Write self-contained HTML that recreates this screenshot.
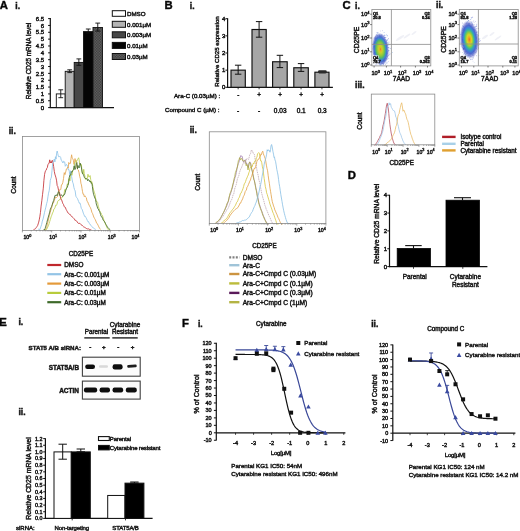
<!DOCTYPE html>
<html><head><meta charset="utf-8"><style>
html,body{margin:0;padding:0;background:#fff;overflow:hidden;}
svg{display:block;font-family:"Liberation Sans", sans-serif;will-change:transform;}
text{stroke:#1a1a1a;stroke-width:0.45px;}
</style></head><body>
<svg width="520" height="531" viewBox="0 0 520 531">
<defs>
<pattern id="chk" width="1.6" height="1.6" patternUnits="userSpaceOnUse"><rect width="1.6" height="1.6" fill="#6a6a6a"/><rect width="0.8" height="0.8" fill="#353535"/><rect x="0.8" y="0.8" width="0.8" height="0.8" fill="#353535"/></pattern>
<radialGradient id="g1" cx="0.5" cy="0.5" r="0.5"><stop offset="0" stop-color="#e87a30"/><stop offset="0.1" stop-color="#e8b028"/><stop offset="0.22" stop-color="#c8d02c"/><stop offset="0.4" stop-color="#8cc83c"/><stop offset="0.54" stop-color="#50b470"/><stop offset="0.64" stop-color="#3a90c8"/><stop offset="0.75" stop-color="#3a62d0" stop-opacity="0.9"/><stop offset="0.87" stop-color="#4a5ac8" stop-opacity="0.55"/><stop offset="1" stop-color="#7080d0" stop-opacity="0"/></radialGradient>
<radialGradient id="g2" cx="0.5" cy="0.5" r="0.5"><stop offset="0" stop-color="#f06828"/><stop offset="0.12" stop-color="#f0a820"/><stop offset="0.24" stop-color="#d8d428"/><stop offset="0.36" stop-color="#90cc3c"/><stop offset="0.48" stop-color="#38b898"/><stop offset="0.6" stop-color="#3a88d4"/><stop offset="0.72" stop-color="#3a58cc" stop-opacity="0.9"/><stop offset="0.86" stop-color="#4a50c0" stop-opacity="0.5"/><stop offset="1" stop-color="#7078d0" stop-opacity="0"/></radialGradient>
<filter id="bl" x="-20%" y="-50%" width="140%" height="200%"><feGaussianBlur stdDeviation="0.55"/></filter>
<radialGradient id="band" cx="0.5" cy="0.5" r="0.5"><stop offset="0" stop-color="#000"/><stop offset="0.55" stop-color="#111"/><stop offset="0.8" stop-color="#444" stop-opacity="0.7"/><stop offset="1" stop-color="#888" stop-opacity="0"/></radialGradient>
</defs>
<rect width="520" height="531" fill="#fff"/>
<text x="-0.30" y="8.50" font-size="11.3" font-weight="bold" fill="#000">A</text>
<text x="15.30" y="8.60" font-size="8.6" font-weight="bold" fill="#111">i.</text>
<line x1="50.30" y1="18.10" x2="50.30" y2="108.10" stroke="#111" stroke-width="1.2"/>
<line x1="49.80" y1="107.60" x2="114.00" y2="107.60" stroke="#111" stroke-width="1.2"/>
<line x1="48.10" y1="107.60" x2="50.30" y2="107.60" stroke="#111" stroke-width="1.0"/>
<text x="44.20" y="109.76" font-size="6.0" text-anchor="end" font-weight="normal" fill="#111">0</text>
<line x1="48.10" y1="100.75" x2="50.30" y2="100.75" stroke="#111" stroke-width="1.0"/>
<text x="44.20" y="102.91" font-size="6.0" text-anchor="end" font-weight="normal" fill="#111">0.5</text>
<line x1="48.10" y1="93.91" x2="50.30" y2="93.91" stroke="#111" stroke-width="1.0"/>
<text x="44.20" y="96.07" font-size="6.0" text-anchor="end" font-weight="normal" fill="#111">1</text>
<line x1="48.10" y1="87.06" x2="50.30" y2="87.06" stroke="#111" stroke-width="1.0"/>
<text x="44.20" y="89.22" font-size="6.0" text-anchor="end" font-weight="normal" fill="#111">1.5</text>
<line x1="48.10" y1="80.22" x2="50.30" y2="80.22" stroke="#111" stroke-width="1.0"/>
<text x="44.20" y="82.38" font-size="6.0" text-anchor="end" font-weight="normal" fill="#111">2</text>
<line x1="48.10" y1="73.37" x2="50.30" y2="73.37" stroke="#111" stroke-width="1.0"/>
<text x="44.20" y="75.53" font-size="6.0" text-anchor="end" font-weight="normal" fill="#111">2.5</text>
<line x1="48.10" y1="66.52" x2="50.30" y2="66.52" stroke="#111" stroke-width="1.0"/>
<text x="44.20" y="68.68" font-size="6.0" text-anchor="end" font-weight="normal" fill="#111">3</text>
<line x1="48.10" y1="59.68" x2="50.30" y2="59.68" stroke="#111" stroke-width="1.0"/>
<text x="44.20" y="61.84" font-size="6.0" text-anchor="end" font-weight="normal" fill="#111">3.5</text>
<line x1="48.10" y1="52.83" x2="50.30" y2="52.83" stroke="#111" stroke-width="1.0"/>
<text x="44.20" y="54.99" font-size="6.0" text-anchor="end" font-weight="normal" fill="#111">4</text>
<line x1="48.10" y1="45.98" x2="50.30" y2="45.98" stroke="#111" stroke-width="1.0"/>
<text x="44.20" y="48.14" font-size="6.0" text-anchor="end" font-weight="normal" fill="#111">4.5</text>
<line x1="48.10" y1="39.14" x2="50.30" y2="39.14" stroke="#111" stroke-width="1.0"/>
<text x="44.20" y="41.30" font-size="6.0" text-anchor="end" font-weight="normal" fill="#111">5</text>
<line x1="48.10" y1="32.29" x2="50.30" y2="32.29" stroke="#111" stroke-width="1.0"/>
<text x="44.20" y="34.45" font-size="6.0" text-anchor="end" font-weight="normal" fill="#111">5.5</text>
<line x1="48.10" y1="25.45" x2="50.30" y2="25.45" stroke="#111" stroke-width="1.0"/>
<text x="44.20" y="27.61" font-size="6.0" text-anchor="end" font-weight="normal" fill="#111">6</text>
<line x1="48.10" y1="18.60" x2="50.30" y2="18.60" stroke="#111" stroke-width="1.0"/>
<text x="44.20" y="20.76" font-size="6.0" text-anchor="end" font-weight="normal" fill="#111">6.5</text>
<text x="28.40" y="63.30" font-size="6.4" text-anchor="middle" font-weight="normal" fill="#111" transform="rotate(-90 28.40 61.00)">Relative CD25 mRNA level</text>
<rect x="56.30" y="93.91" width="8.90" height="13.69" fill="#ffffff" stroke="#111" stroke-width="0.9"/>
<line x1="60.75" y1="89.80" x2="60.75" y2="97.70" stroke="#111" stroke-width="0.9"/>
<line x1="58.35" y1="89.80" x2="63.15" y2="89.80" stroke="#111" stroke-width="0.9"/>
<line x1="58.35" y1="97.70" x2="63.15" y2="97.70" stroke="#111" stroke-width="0.9"/>
<rect x="65.20" y="71.32" width="9.00" height="36.28" fill="#b4b4b4" stroke="#111" stroke-width="0.9"/>
<line x1="69.70" y1="69.80" x2="69.70" y2="72.60" stroke="#111" stroke-width="0.9"/>
<line x1="67.30" y1="69.80" x2="72.10" y2="69.80" stroke="#111" stroke-width="0.9"/>
<line x1="67.30" y1="72.60" x2="72.10" y2="72.60" stroke="#111" stroke-width="0.9"/>
<rect x="74.20" y="62.42" width="9.30" height="45.18" fill="#474747" stroke="#111" stroke-width="0.9"/>
<line x1="78.85" y1="58.90" x2="78.85" y2="65.30" stroke="#111" stroke-width="0.9"/>
<line x1="76.45" y1="58.90" x2="81.25" y2="58.90" stroke="#111" stroke-width="0.9"/>
<line x1="76.45" y1="65.30" x2="81.25" y2="65.30" stroke="#111" stroke-width="0.9"/>
<rect x="83.50" y="31.61" width="9.50" height="75.99" fill="#050505" stroke="#111" stroke-width="0.9"/>
<line x1="88.25" y1="29.00" x2="88.25" y2="33.00" stroke="#111" stroke-width="0.9"/>
<line x1="85.85" y1="29.00" x2="90.65" y2="29.00" stroke="#111" stroke-width="0.9"/>
<line x1="85.85" y1="33.00" x2="90.65" y2="33.00" stroke="#111" stroke-width="0.9"/>
<rect x="93.00" y="27.50" width="9.50" height="80.10" fill="url(#chk)" stroke="#111" stroke-width="0.9"/>
<line x1="97.75" y1="23.10" x2="97.75" y2="31.10" stroke="#111" stroke-width="0.9"/>
<line x1="95.35" y1="23.10" x2="100.15" y2="23.10" stroke="#111" stroke-width="0.9"/>
<line x1="95.35" y1="31.10" x2="100.15" y2="31.10" stroke="#111" stroke-width="0.9"/>
<rect x="112.30" y="10.70" width="13.20" height="5.60" fill="#ffffff" stroke="#111" stroke-width="1.0"/>
<text x="127.00" y="15.83" font-size="6.2" text-anchor="start" font-weight="normal" fill="#111">DMSO</text>
<rect x="112.30" y="21.30" width="13.20" height="6.00" fill="#b4b4b4" stroke="#111" stroke-width="1.0"/>
<text x="127.00" y="26.83" font-size="6.2" text-anchor="start" font-weight="normal" fill="#111">0.001&#181;M</text>
<rect x="112.30" y="31.80" width="13.20" height="6.00" fill="#474747" stroke="#111" stroke-width="1.0"/>
<text x="127.00" y="37.23" font-size="6.2" text-anchor="start" font-weight="normal" fill="#111">0.003&#181;M</text>
<rect x="112.30" y="42.40" width="13.20" height="6.00" fill="#050505" stroke="#111" stroke-width="1.0"/>
<text x="127.00" y="47.83" font-size="6.2" text-anchor="start" font-weight="normal" fill="#111">0.01&#181;M</text>
<rect x="112.30" y="53.50" width="13.20" height="6.00" fill="url(#chk)" stroke="#111" stroke-width="1.0"/>
<text x="127.00" y="59.03" font-size="6.2" text-anchor="start" font-weight="normal" fill="#111">0.03&#181;M</text>
<text x="8.70" y="133.70" font-size="8.6" font-weight="bold" fill="#111">ii.</text>
<text x="13.30" y="187.27" font-size="6.3" text-anchor="middle" font-weight="normal" fill="#111" transform="rotate(-90 13.30 185.00)">Count</text>
<path d="M33.54,229.47L33.95,229.29L34.55,229.26L35.22,228.86L35.85,228.25L36.42,227.34L37.00,226.50L37.58,225.61L38.16,223.91L38.71,222.15L39.24,219.82L39.80,216.82L40.46,212.43L41.10,206.15L41.82,200.77L42.57,194.31L43.29,188.18L43.92,180.36L44.58,174.40L45.15,171.89L45.68,170.54L46.23,170.11L46.81,168.19L47.39,167.53L47.96,164.31L48.54,163.91L49.13,163.09L49.74,159.83L50.32,162.82L50.85,161.69L51.43,162.93L51.93,160.56L52.46,160.51L53.05,162.98L53.65,166.54L54.31,171.40L54.85,174.10L55.44,175.99L56.03,177.85L56.62,180.82L57.17,185.55L57.70,186.22L58.27,189.01L58.93,191.86L59.51,192.31L60.12,195.46L60.78,199.28L61.53,199.52L62.39,202.19L62.92,203.67L63.49,204.44L64.10,206.23L64.73,207.22L65.39,207.38L66.06,209.34L66.75,210.64L67.45,211.87L68.16,213.17L68.80,213.64L69.47,214.21L70.15,214.32L70.84,215.68L71.55,216.23L72.26,216.99L72.97,217.47L73.68,218.22L74.38,219.11L75.08,220.47L75.78,220.35L76.48,220.83L77.19,221.87L77.91,222.97L78.61,223.49L79.32,223.33L80.01,223.38L80.69,224.39L81.36,224.82L82.00,225.15L82.71,226.06L83.41,226.72L84.10,227.02L84.77,227.38L85.43,227.77L86.06,228.35L86.67,228.57L87.24,228.78L87.77,228.99L88.67,228.88L89.49,229.42L90.21,229.62L90.80,229.63L91.24,229.47" stroke="#c43036" stroke-width="0.85" fill="none" stroke-linejoin="round"/>
<path d="M38.16,229.47L38.52,229.19L39.02,229.68L39.67,229.89L40.46,227.88L41.01,226.30L41.65,224.42L42.34,221.11L43.06,219.00L43.78,216.00L44.46,212.71L45.08,210.16L45.86,207.12L46.60,203.65L47.29,201.34L47.94,196.85L48.54,193.20L49.20,190.68L49.77,186.05L50.30,180.33L50.85,178.62L51.43,176.95L52.00,170.65L52.58,163.94L53.16,162.17L53.73,160.60L54.31,159.04L54.89,161.93L55.46,156.71L56.04,159.14L56.62,153.10L57.20,151.00L57.77,153.61L58.35,156.28L58.93,157.09L59.50,156.57L60.08,156.42L60.66,157.43L61.23,160.23L61.81,160.63L62.39,162.20L62.96,163.02L63.54,161.27L64.12,161.82L64.70,161.87L65.27,166.27L65.85,165.37L66.43,164.40L67.00,164.95L67.58,166.54L68.16,169.79L68.73,169.34L69.31,171.42L69.89,176.00L70.47,170.78L71.04,172.30L71.62,176.53L72.17,179.84L72.70,182.33L73.27,183.81L73.93,187.49L74.53,189.60L75.17,190.87L75.87,196.21L76.60,197.45L77.39,198.38L77.99,199.92L78.62,201.45L79.29,203.23L79.97,202.86L80.65,205.43L81.34,208.48L82.00,209.16L82.66,210.98L83.32,213.13L83.98,214.72L84.64,216.43L85.30,216.30L85.96,217.59L86.62,218.81L87.28,220.35L87.94,221.79L88.60,221.65L89.26,223.45L89.92,223.92L90.58,225.24L91.24,225.59L91.94,226.58L92.69,227.61L93.46,227.99L94.20,228.49L94.87,229.06L95.43,229.32L95.85,229.47" stroke="#90c4e8" stroke-width="0.85" fill="none" stroke-linejoin="round"/>
<path d="M43.92,229.47L44.29,229.65L44.79,230.37L45.44,230.22L46.23,228.42L46.76,227.28L47.35,224.21L47.99,221.68L48.67,218.39L49.38,215.36L50.11,212.81L50.85,210.20L51.45,208.69L52.10,205.64L52.77,203.29L53.46,202.97L54.15,200.79L54.82,198.95L55.47,196.97L56.07,197.92L56.62,197.32L57.46,196.67L58.17,193.37L58.81,192.32L59.42,189.83L60.08,189.83L60.77,189.55L61.46,184.81L62.16,184.52L62.85,182.35L63.54,178.45L64.25,172.65L64.98,174.63L65.70,172.04L66.38,169.01L67.00,168.63L67.66,167.35L68.23,168.13L68.76,162.46L69.31,163.60L69.89,163.94L70.47,163.08L71.04,158.29L71.62,154.78L72.20,158.20L72.77,158.78L73.35,160.17L73.93,164.37L74.48,162.97L75.01,158.56L75.58,161.30L76.23,160.62L76.87,166.57L77.59,169.32L78.34,170.03L79.06,172.67L79.70,176.43L80.35,178.69L80.92,183.27L81.45,184.88L82.00,188.45L82.55,191.69L83.09,194.29L83.65,194.02L84.31,196.64L84.93,195.79L85.61,197.07L86.33,197.70L87.06,201.37L87.77,201.90L88.45,203.82L89.10,205.18L89.77,206.61L90.47,207.73L91.24,209.80L91.83,212.28L92.47,213.35L93.13,215.09L93.81,217.07L94.50,218.39L95.18,219.49L95.85,221.04L96.55,222.99L97.31,223.79L98.07,225.20L98.81,226.87L99.49,228.08L100.05,228.87L100.47,229.47" stroke="#e4a450" stroke-width="0.85" fill="none" stroke-linejoin="round"/>
<path d="M45.08,229.47L45.41,229.79L45.87,230.02L46.51,229.48L47.39,227.87L47.88,226.78L48.44,225.70L49.05,223.72L49.71,221.51L50.40,219.33L51.10,216.83L51.81,215.19L52.50,212.95L53.16,211.95L53.80,209.18L54.44,208.81L55.08,207.36L55.72,205.12L56.36,205.37L57.00,204.15L57.64,201.40L58.28,200.57L58.93,200.56L59.57,199.32L60.21,199.38L60.85,198.91L61.49,198.13L62.13,196.91L62.77,196.85L63.41,195.51L64.05,193.98L64.70,189.51L65.35,190.06L66.02,189.89L66.70,186.67L67.39,183.82L68.06,184.97L68.71,178.87L69.34,178.55L69.93,180.88L70.47,175.53L71.31,174.32L72.02,175.19L72.65,170.97L73.27,169.56L73.93,168.79L74.64,163.56L75.37,161.83L76.09,161.06L76.77,161.44L77.39,159.51L78.05,158.85L78.61,157.77L79.15,159.92L79.70,164.38L80.27,165.18L80.85,164.23L81.43,164.61L82.00,172.60L82.58,173.85L83.16,174.29L83.74,169.34L84.31,173.68L84.86,175.88L85.39,179.41L85.96,179.17L86.62,178.37L87.26,178.69L87.98,174.25L88.73,176.90L89.45,176.87L90.08,175.55L90.71,179.55L91.24,183.39L91.76,181.68L92.39,183.77L92.97,187.14L93.58,189.98L94.25,192.15L94.99,194.20L95.85,199.86L96.39,201.60L96.98,201.42L97.60,202.36L98.26,206.19L98.93,208.30L99.61,210.74L100.30,212.12L100.97,212.75L101.62,214.60L102.28,215.23L102.97,217.24L103.67,219.42L104.38,221.53L105.06,222.95L105.72,224.61L106.34,226.20L106.90,227.46L107.39,228.51L108.27,229.65L108.91,229.75L109.37,229.72L109.70,229.47" stroke="#bccf50" stroke-width="0.85" fill="none" stroke-linejoin="round"/>
<path d="M43.92,229.47L44.21,230.17L45.08,228.60L45.56,226.97L46.15,224.97L46.81,222.50L47.53,219.90L48.27,217.14L49.00,214.60L49.69,212.13L50.35,209.17L51.01,207.71L51.67,206.45L52.33,204.41L52.99,202.00L53.65,200.67L54.31,198.06L54.98,195.40L55.66,195.82L56.35,194.69L57.03,195.79L57.69,194.17L58.33,191.62L58.93,192.15L59.69,195.50L60.39,195.35L61.06,194.66L61.71,195.14L62.39,196.34L63.08,196.12L63.77,194.79L64.46,194.72L65.16,192.77L65.85,189.91L66.54,188.22L67.23,187.67L67.93,185.15L68.62,182.87L69.31,177.13L70.00,175.05L70.70,174.73L71.39,171.69L72.08,172.12L72.77,170.56L73.48,169.63L74.21,165.83L74.93,169.62L75.62,167.91L76.23,163.52L76.89,162.59L77.46,168.82L77.99,165.43L78.54,167.08L79.09,168.02L79.62,166.26L80.19,163.15L80.85,165.58L81.47,168.03L82.15,171.95L82.87,174.17L83.60,174.75L84.31,177.31L85.00,178.31L85.70,178.57L86.39,178.81L87.08,178.83L87.77,180.92L88.49,179.55L89.21,180.14L89.93,181.94L90.62,181.17L91.24,183.20L91.87,183.26L92.39,186.50L92.91,190.91L93.54,194.22L94.16,196.03L94.85,198.06L95.57,199.28L96.29,204.01L97.01,206.04L97.70,208.39L98.39,209.09L99.08,210.89L99.78,211.71L100.47,214.42L101.16,216.45L101.85,216.80L102.54,218.52L103.24,220.23L103.93,220.82L104.63,221.85L105.35,223.29L106.06,224.71L106.74,225.70L107.39,226.94L108.20,228.00L108.99,228.80L109.68,229.34L110.16,229.47" stroke="#446c2c" stroke-width="0.85" fill="none" stroke-linejoin="round"/>
<rect x="22.40" y="136.50" width="117.10" height="93.90" fill="none" stroke="#8a8a8a" stroke-width="0.8"/>
<line x1="22.40" y1="230.40" x2="22.40" y2="232.40" stroke="#666" stroke-width="0.6"/>
<line x1="31.21" y1="230.40" x2="31.21" y2="231.40" stroke="#666" stroke-width="0.6"/>
<line x1="36.37" y1="230.40" x2="36.37" y2="231.40" stroke="#666" stroke-width="0.6"/>
<line x1="40.03" y1="230.40" x2="40.03" y2="231.40" stroke="#666" stroke-width="0.6"/>
<line x1="42.86" y1="230.40" x2="42.86" y2="231.40" stroke="#666" stroke-width="0.6"/>
<line x1="45.18" y1="230.40" x2="45.18" y2="231.40" stroke="#666" stroke-width="0.6"/>
<line x1="47.14" y1="230.40" x2="47.14" y2="231.40" stroke="#666" stroke-width="0.6"/>
<line x1="48.84" y1="230.40" x2="48.84" y2="231.40" stroke="#666" stroke-width="0.6"/>
<line x1="50.34" y1="230.40" x2="50.34" y2="231.40" stroke="#666" stroke-width="0.6"/>
<line x1="51.67" y1="230.40" x2="51.67" y2="232.40" stroke="#666" stroke-width="0.6"/>
<line x1="60.49" y1="230.40" x2="60.49" y2="231.40" stroke="#666" stroke-width="0.6"/>
<line x1="65.64" y1="230.40" x2="65.64" y2="231.40" stroke="#666" stroke-width="0.6"/>
<line x1="69.30" y1="230.40" x2="69.30" y2="231.40" stroke="#666" stroke-width="0.6"/>
<line x1="72.14" y1="230.40" x2="72.14" y2="231.40" stroke="#666" stroke-width="0.6"/>
<line x1="74.46" y1="230.40" x2="74.46" y2="231.40" stroke="#666" stroke-width="0.6"/>
<line x1="76.42" y1="230.40" x2="76.42" y2="231.40" stroke="#666" stroke-width="0.6"/>
<line x1="78.11" y1="230.40" x2="78.11" y2="231.40" stroke="#666" stroke-width="0.6"/>
<line x1="79.61" y1="230.40" x2="79.61" y2="231.40" stroke="#666" stroke-width="0.6"/>
<line x1="80.95" y1="230.40" x2="80.95" y2="232.40" stroke="#666" stroke-width="0.6"/>
<line x1="89.76" y1="230.40" x2="89.76" y2="231.40" stroke="#666" stroke-width="0.6"/>
<line x1="94.92" y1="230.40" x2="94.92" y2="231.40" stroke="#666" stroke-width="0.6"/>
<line x1="98.58" y1="230.40" x2="98.58" y2="231.40" stroke="#666" stroke-width="0.6"/>
<line x1="101.41" y1="230.40" x2="101.41" y2="231.40" stroke="#666" stroke-width="0.6"/>
<line x1="103.73" y1="230.40" x2="103.73" y2="231.40" stroke="#666" stroke-width="0.6"/>
<line x1="105.69" y1="230.40" x2="105.69" y2="231.40" stroke="#666" stroke-width="0.6"/>
<line x1="107.39" y1="230.40" x2="107.39" y2="231.40" stroke="#666" stroke-width="0.6"/>
<line x1="108.89" y1="230.40" x2="108.89" y2="231.40" stroke="#666" stroke-width="0.6"/>
<line x1="110.22" y1="230.40" x2="110.22" y2="232.40" stroke="#666" stroke-width="0.6"/>
<line x1="119.04" y1="230.40" x2="119.04" y2="231.40" stroke="#666" stroke-width="0.6"/>
<line x1="124.19" y1="230.40" x2="124.19" y2="231.40" stroke="#666" stroke-width="0.6"/>
<line x1="127.85" y1="230.40" x2="127.85" y2="231.40" stroke="#666" stroke-width="0.6"/>
<line x1="130.69" y1="230.40" x2="130.69" y2="231.40" stroke="#666" stroke-width="0.6"/>
<line x1="133.01" y1="230.40" x2="133.01" y2="231.40" stroke="#666" stroke-width="0.6"/>
<line x1="134.97" y1="230.40" x2="134.97" y2="231.40" stroke="#666" stroke-width="0.6"/>
<line x1="136.66" y1="230.40" x2="136.66" y2="231.40" stroke="#666" stroke-width="0.6"/>
<line x1="138.16" y1="230.40" x2="138.16" y2="231.40" stroke="#666" stroke-width="0.6"/>
<line x1="139.50" y1="230.40" x2="139.50" y2="232.40" stroke="#666" stroke-width="0.6"/>
<text x="23.40" y="239.17" font-size="5.2" fill="#222" text-anchor="start">10<tspan font-size="3.74" dy="-2.18">0</tspan></text>
<text x="49.27" y="239.17" font-size="5.2" fill="#222" text-anchor="start">10<tspan font-size="3.74" dy="-2.18">1</tspan></text>
<text x="78.55" y="239.17" font-size="5.2" fill="#222" text-anchor="start">10<tspan font-size="3.74" dy="-2.18">2</tspan></text>
<text x="107.82" y="239.17" font-size="5.2" fill="#222" text-anchor="start">10<tspan font-size="3.74" dy="-2.18">3</tspan></text>
<text x="131.50" y="239.17" font-size="5.2" fill="#222" text-anchor="start">10<tspan font-size="3.74" dy="-2.18">4</tspan></text>
<text x="81.00" y="256.07" font-size="6.3" text-anchor="middle" font-weight="normal" fill="#111">CD25PE</text>
<line x1="47.30" y1="265.00" x2="61.20" y2="265.00" stroke="#c0282d" stroke-width="2.2"/>
<text x="64.20" y="267.30" font-size="6.4" text-anchor="start" font-weight="normal" fill="#111">DMSO</text>
<line x1="47.30" y1="274.20" x2="61.20" y2="274.20" stroke="#94c4e6" stroke-width="2.2"/>
<text x="64.20" y="276.50" font-size="6.4" text-anchor="start" font-weight="normal" fill="#111">Ara-C: 0.001&#181;M</text>
<line x1="47.30" y1="283.60" x2="61.20" y2="283.60" stroke="#e49a3a" stroke-width="2.2"/>
<text x="64.20" y="285.90" font-size="6.4" text-anchor="start" font-weight="normal" fill="#111">Ara-C: 0.003&#181;M</text>
<line x1="47.30" y1="292.90" x2="61.20" y2="292.90" stroke="#b8cc3c" stroke-width="2.2"/>
<text x="64.20" y="295.20" font-size="6.4" text-anchor="start" font-weight="normal" fill="#111">Ara-C: 0.01&#181;M</text>
<line x1="47.30" y1="302.20" x2="61.20" y2="302.20" stroke="#3e6a2a" stroke-width="2.2"/>
<text x="64.20" y="304.50" font-size="6.4" text-anchor="start" font-weight="normal" fill="#111">Ara-C: 0.03&#181;M</text>
<text x="164.50" y="8.70" font-size="11.3" font-weight="bold" fill="#000">B</text>
<text x="189.80" y="9.10" font-size="8.6" font-weight="bold" fill="#111">i.</text>
<line x1="227.60" y1="18.20" x2="227.60" y2="87.80" stroke="#111" stroke-width="1.2"/>
<line x1="227.10" y1="87.30" x2="332.90" y2="87.30" stroke="#111" stroke-width="1.2"/>
<line x1="225.40" y1="87.30" x2="227.60" y2="87.30" stroke="#111" stroke-width="1.0"/>
<text x="225.40" y="89.46" font-size="6.0" text-anchor="end" font-weight="normal" fill="#111">0</text>
<line x1="225.40" y1="70.15" x2="227.60" y2="70.15" stroke="#111" stroke-width="1.0"/>
<text x="225.40" y="72.31" font-size="6.0" text-anchor="end" font-weight="normal" fill="#111">1</text>
<line x1="225.40" y1="53.00" x2="227.60" y2="53.00" stroke="#111" stroke-width="1.0"/>
<text x="225.40" y="55.16" font-size="6.0" text-anchor="end" font-weight="normal" fill="#111">2</text>
<line x1="225.40" y1="35.85" x2="227.60" y2="35.85" stroke="#111" stroke-width="1.0"/>
<text x="225.40" y="38.01" font-size="6.0" text-anchor="end" font-weight="normal" fill="#111">3</text>
<line x1="225.40" y1="18.70" x2="227.60" y2="18.70" stroke="#111" stroke-width="1.0"/>
<text x="225.40" y="20.86" font-size="6.0" text-anchor="end" font-weight="normal" fill="#111">4</text>
<text x="217.20" y="53.70" font-size="6.1" text-anchor="middle" font-weight="normal" fill="#111" transform="rotate(-90 217.20 51.50)">Relative CD25 expression</text>
<rect x="231.00" y="70.15" width="14.30" height="17.15" fill="#a6a6a6" stroke="#111" stroke-width="1.15"/>
<line x1="238.15" y1="65.20" x2="238.15" y2="74.20" stroke="#111" stroke-width="1.0"/>
<line x1="234.95" y1="65.20" x2="241.35" y2="65.20" stroke="#111" stroke-width="1.0"/>
<line x1="234.95" y1="74.20" x2="241.35" y2="74.20" stroke="#111" stroke-width="1.0"/>
<line x1="238.15" y1="87.30" x2="238.15" y2="89.30" stroke="#111" stroke-width="0.8"/>
<rect x="252.00" y="29.50" width="14.20" height="57.80" fill="#a6a6a6" stroke="#111" stroke-width="1.15"/>
<line x1="259.10" y1="21.60" x2="259.10" y2="37.20" stroke="#111" stroke-width="1.0"/>
<line x1="255.90" y1="21.60" x2="262.30" y2="21.60" stroke="#111" stroke-width="1.0"/>
<line x1="255.90" y1="37.20" x2="262.30" y2="37.20" stroke="#111" stroke-width="1.0"/>
<line x1="259.10" y1="87.30" x2="259.10" y2="89.30" stroke="#111" stroke-width="0.8"/>
<rect x="272.60" y="61.75" width="14.60" height="25.55" fill="#a6a6a6" stroke="#111" stroke-width="1.15"/>
<line x1="279.90" y1="55.30" x2="279.90" y2="67.60" stroke="#111" stroke-width="1.0"/>
<line x1="276.70" y1="55.30" x2="283.10" y2="55.30" stroke="#111" stroke-width="1.0"/>
<line x1="276.70" y1="67.60" x2="283.10" y2="67.60" stroke="#111" stroke-width="1.0"/>
<line x1="279.90" y1="87.30" x2="279.90" y2="89.30" stroke="#111" stroke-width="0.8"/>
<rect x="293.80" y="67.75" width="14.50" height="19.55" fill="#a6a6a6" stroke="#111" stroke-width="1.15"/>
<line x1="301.05" y1="63.60" x2="301.05" y2="71.40" stroke="#111" stroke-width="1.0"/>
<line x1="297.85" y1="63.60" x2="304.25" y2="63.60" stroke="#111" stroke-width="1.0"/>
<line x1="297.85" y1="71.40" x2="304.25" y2="71.40" stroke="#111" stroke-width="1.0"/>
<line x1="301.05" y1="87.30" x2="301.05" y2="89.30" stroke="#111" stroke-width="0.8"/>
<rect x="314.90" y="72.21" width="14.10" height="15.09" fill="#a6a6a6" stroke="#111" stroke-width="1.15"/>
<rect x="318.0" y="70.3" width="8.8" height="3.2" rx="1.4" fill="#2a2a2a"/>
<line x1="321.95" y1="87.30" x2="321.95" y2="89.30" stroke="#111" stroke-width="0.8"/>
<text x="220.20" y="98.03" font-size="6.2" text-anchor="end" font-weight="normal" fill="#111">Ara-C (0.03&#181;M) :</text>
<text x="219.50" y="111.63" font-size="6.2" text-anchor="end" font-weight="normal" fill="#111">Compound C (&#181;M) :</text>
<text x="238.20" y="97.27" font-size="6.3" text-anchor="middle" font-weight="normal" fill="#111">-</text>
<text x="259.20" y="97.27" font-size="6.3" text-anchor="middle" font-weight="normal" fill="#111">+</text>
<text x="280.20" y="97.27" font-size="6.3" text-anchor="middle" font-weight="normal" fill="#111">+</text>
<text x="301.20" y="97.27" font-size="6.3" text-anchor="middle" font-weight="normal" fill="#111">+</text>
<text x="322.20" y="97.27" font-size="6.3" text-anchor="middle" font-weight="normal" fill="#111">+</text>
<text x="238.20" y="113.14" font-size="6.5" text-anchor="middle" font-weight="normal" fill="#111">-</text>
<text x="259.20" y="113.14" font-size="6.5" text-anchor="middle" font-weight="normal" fill="#111">-</text>
<text x="280.20" y="113.14" font-size="6.5" text-anchor="middle" font-weight="normal" fill="#111">0.03</text>
<text x="301.20" y="113.14" font-size="6.5" text-anchor="middle" font-weight="normal" fill="#111">0.1</text>
<text x="322.20" y="113.14" font-size="6.5" text-anchor="middle" font-weight="normal" fill="#111">0.3</text>
<text x="189.70" y="132.70" font-size="8.6" font-weight="bold" fill="#111">ii.</text>
<text x="198.00" y="184.47" font-size="6.3" text-anchor="middle" font-weight="normal" fill="#111" transform="rotate(-90 198.00 182.20)">Count</text>
<path d="M215.40,223.50L215.85,223.32L216.47,222.88L217.21,222.00L217.99,221.31L218.74,220.52L219.40,219.75L220.03,219.06L220.58,218.33L221.10,217.56L221.69,216.14L222.40,214.62L222.93,213.76L223.51,212.65L224.13,211.39L224.78,210.10L225.44,208.49L226.10,207.33L226.76,205.82L227.40,204.05L228.03,202.00L228.67,200.16L229.32,197.01L229.96,195.16L230.60,193.68L231.22,190.99L231.82,189.61L232.40,187.90L233.14,184.26L233.84,181.83L234.53,179.16L235.18,177.16L235.80,175.07L236.40,172.26L237.07,168.42L237.70,165.92L238.29,163.59L238.85,162.47L239.40,160.72L240.06,157.94L240.69,155.65L241.27,156.00L241.80,155.98L242.38,157.00L242.87,160.47L243.40,161.95L244.00,161.94L244.64,161.13L245.40,159.70L245.95,163.53L246.58,163.00L247.22,165.47L247.85,166.09L248.40,167.64L249.14,163.33L249.77,161.79L250.40,162.48L251.03,164.77L251.66,169.50L252.40,171.51L252.94,174.38L253.53,176.92L254.15,180.04L254.78,182.86L255.40,185.30L256.00,188.54L256.60,190.79L257.20,194.81L257.80,197.01L258.40,199.98L259.00,203.18L259.60,204.72L260.20,206.50L260.80,208.60L261.40,210.17L262.00,211.64L262.60,213.47L263.20,215.20L263.80,216.77L264.40,217.94L265.02,219.59L265.65,220.98L266.27,221.96L266.86,222.89L267.40,223.49L268.21,224.07L268.92,223.69L269.40,223.50" stroke="#8a5a9a" stroke-width="0.6" fill="none" stroke-linejoin="round"/>
<path d="M215.00,223.50L215.45,223.23L216.07,222.62L216.81,221.94L217.59,221.47L218.34,220.96L219.00,220.12L219.63,219.12L220.18,218.52L220.70,217.55L221.29,216.50L222.00,215.42L222.53,214.44L223.11,212.88L223.73,212.27L224.38,210.54L225.04,209.20L225.70,207.22L226.36,205.62L227.00,203.22L227.63,202.71L228.27,201.28L228.92,198.14L229.56,195.30L230.20,192.68L230.82,192.19L231.42,189.73L232.00,187.81L232.74,184.93L233.44,182.23L234.12,178.53L234.78,176.48L235.40,172.55L236.00,171.02L236.67,169.11L237.30,167.04L237.89,163.87L238.45,160.37L239.00,159.61L239.66,157.61L240.29,159.76L240.87,159.57L241.40,158.38L241.98,158.75L242.47,160.33L243.00,161.13L243.60,160.92L244.24,160.45L245.00,160.69L245.55,161.93L246.18,165.75L246.82,164.38L247.45,165.49L248.00,169.89L248.74,164.51L249.37,162.49L250.00,162.74L250.63,164.40L251.26,167.29L252.00,169.95L252.54,172.90L253.13,175.65L253.75,179.50L254.38,180.46L255.00,183.66L255.60,187.53L256.20,190.28L256.80,193.30L257.40,197.25L258.00,199.63L258.60,202.50L259.20,204.84L259.80,206.66L260.40,208.51L261.00,210.09L261.60,211.39L262.20,213.30L262.80,215.12L263.40,216.49L264.00,217.94L264.62,219.46L265.25,220.54L265.87,221.87L266.46,223.09L267.00,223.55L267.81,223.95L268.52,223.70L269.00,223.50" stroke="#a8a838" stroke-width="0.75" fill="none" stroke-linejoin="round"/>
<path d="M217.00,223.50L217.44,223.25L218.04,222.54L218.75,221.84L219.52,220.76L220.29,219.88L221.00,218.99L221.66,217.77L222.30,217.35L222.94,216.54L223.59,215.00L224.28,214.24L225.00,212.99L225.58,212.19L226.18,211.29L226.80,209.77L227.44,208.88L228.08,208.41L228.73,206.79L229.37,205.08L230.00,203.25L230.62,201.44L231.25,200.22L231.88,199.24L232.50,197.03L233.12,194.74L233.75,193.79L234.38,190.48L235.00,187.72L235.63,186.23L236.27,184.43L236.92,181.14L237.56,178.28L238.20,177.20L238.82,175.66L239.42,172.39L240.00,171.16L240.72,168.91L241.41,168.07L242.06,166.14L242.70,164.51L243.34,162.72L244.00,163.15L244.69,163.40L245.41,160.82L246.12,161.07L246.81,158.71L247.45,158.52L248.00,159.03L248.81,159.29L249.41,155.85L250.00,154.19L250.67,153.36L251.33,149.96L252.00,151.04L252.63,151.03L253.26,153.62L254.00,154.29L254.52,154.50L255.08,159.11L255.68,163.19L256.32,165.87L257.00,170.67L257.61,173.04L258.26,175.81L258.94,180.12L259.63,182.27L260.32,185.88L261.00,189.57L261.66,193.17L262.30,195.50L262.94,198.12L263.59,200.10L264.28,202.71L265.00,205.67L265.59,206.80L266.23,209.36L266.89,210.48L267.56,212.15L268.23,213.83L268.87,215.59L269.46,216.60L270.00,217.53L270.74,219.58L271.39,221.10L271.97,222.19L272.50,223.32L273.00,223.73L273.81,224.05L274.52,223.90L275.00,223.50" stroke="#c0a8b4" stroke-width="0.8" fill="none" stroke-linejoin="round" stroke-dasharray="1.6,0.7"/>
<path d="M221.00,223.50L221.39,223.21L221.92,222.95L222.55,222.16L223.25,221.55L223.98,220.49L224.70,220.22L225.39,219.55L226.00,219.09L226.70,218.51L227.33,217.41L227.94,216.32L228.56,215.20L229.23,213.98L230.00,212.76L230.57,212.20L231.18,211.36L231.81,210.51L232.47,209.56L233.16,208.88L233.85,207.89L234.56,206.61L235.28,205.58L236.00,204.07L236.60,202.43L237.21,201.92L237.84,200.56L238.47,198.55L239.11,197.69L239.76,196.14L240.41,193.64L241.06,193.25L241.71,191.57L242.36,190.29L243.00,188.47L243.64,186.53L244.30,183.76L244.96,183.24L245.63,181.39L246.29,179.34L246.95,177.96L247.60,176.20L248.24,175.05L248.85,172.79L249.44,171.30L250.00,167.93L250.73,166.96L251.44,166.92L252.11,166.96L252.75,164.58L253.36,163.17L253.94,163.87L254.48,161.49L255.00,161.06L255.74,160.78L256.39,157.77L256.97,157.14L257.50,153.83L258.00,153.30L258.70,152.55L259.30,153.20L260.00,156.51L260.54,160.69L261.13,160.59L261.75,162.70L262.38,166.85L263.00,169.15L263.58,173.86L264.15,178.42L264.73,182.19L265.34,186.65L266.00,189.25L266.61,192.81L267.26,194.51L267.94,196.96L268.63,199.30L269.32,201.56L270.00,204.15L270.68,206.12L271.37,207.90L272.06,209.95L272.74,212.05L273.39,213.52L274.00,215.14L274.68,217.27L275.32,219.14L275.92,220.72L276.48,222.65L277.00,223.88L277.81,224.06L278.52,223.78L279.00,223.50" stroke="#d4c030" stroke-width="0.75" fill="none" stroke-linejoin="round"/>
<path d="M223.00,223.50L223.39,223.21L223.92,222.87L224.55,222.36L225.25,221.66L225.98,220.87L226.70,220.29L227.39,219.80L228.00,218.89L228.68,217.91L229.26,217.12L229.81,215.88L230.41,215.04L231.11,213.99L232.00,213.00L232.53,212.22L233.11,211.47L233.74,210.90L234.41,210.36L235.10,209.59L235.81,209.02L236.54,208.56L237.26,208.05L237.98,207.52L238.68,206.03L239.36,204.91L240.00,203.11L240.68,203.07L241.35,201.37L242.01,200.06L242.66,198.88L243.31,196.68L243.94,195.64L244.57,194.09L245.19,191.58L245.80,190.71L246.40,190.03L247.00,187.13L247.72,186.30L248.42,184.56L249.11,182.94L249.79,181.19L250.46,180.09L251.11,177.45L251.75,176.21L252.38,173.68L253.00,172.69L253.68,169.84L254.34,168.31L254.99,168.62L255.62,166.70L256.24,164.42L256.84,161.55L257.43,159.90L258.00,159.59L258.75,159.23L259.48,157.58L260.19,156.16L260.85,154.15L261.46,154.62L262.00,152.38L262.78,151.26L263.33,153.76L264.00,155.47L264.54,156.72L265.13,158.42L265.75,161.22L266.38,165.19L267.00,168.52L267.60,170.73L268.20,175.68L268.80,180.08L269.40,183.52L270.00,188.22L270.57,191.44L271.10,194.64L271.66,198.28L272.27,201.67L273.00,204.01L273.54,205.96L274.16,207.42L274.82,209.91L275.50,211.19L276.18,213.04L276.84,214.27L277.46,215.86L278.00,217.45L278.74,218.61L279.39,220.23L279.97,221.68L280.50,222.71L281.00,223.42L281.81,224.20L282.52,223.85L283.00,223.50" stroke="#e09a38" stroke-width="0.75" fill="none" stroke-linejoin="round"/>
<path d="M236.00,223.50L236.40,223.14L236.92,223.14L237.54,222.68L238.23,222.65L238.97,222.25L239.74,221.98L240.52,221.82L241.28,221.42L242.00,220.85L242.63,220.45L243.26,220.59L243.90,220.52L244.54,220.18L245.19,220.16L245.84,219.94L246.50,219.64L247.16,218.78L247.83,218.29L248.50,217.76L249.13,217.00L249.78,216.08L250.44,214.38L251.11,213.38L251.79,212.26L252.46,211.48L253.12,209.52L253.76,207.98L254.37,206.59L254.96,205.45L255.50,203.78L256.27,202.09L256.96,199.52L257.59,197.60L258.19,195.16L258.77,193.02L259.37,190.14L260.00,186.62L260.67,184.59L261.36,181.03L262.06,176.52L262.76,172.81L263.44,169.79L264.09,164.84L264.70,161.95L265.37,159.68L266.02,157.35L266.63,154.19L267.20,149.71L267.73,151.05L268.20,150.17L268.93,149.86L269.48,151.03L270.00,152.22L270.54,149.67L271.05,145.75L271.60,144.52L272.23,147.04L272.89,151.23L273.50,154.12L274.00,157.36L274.45,156.85L275.00,160.05L275.54,161.24L276.15,164.90L276.79,169.31L277.40,172.17L277.98,174.99L278.56,179.37L279.13,183.77L279.70,186.75L280.27,190.68L280.85,194.69L281.43,198.00L282.00,201.42L282.57,204.81L283.15,207.89L283.73,210.74L284.30,213.25L284.90,215.47L285.51,217.69L286.09,219.61L286.60,221.14L287.32,222.82L288.00,223.27L288.70,223.53L289.46,223.52L290.00,223.50" stroke="#88bfe4" stroke-width="0.8" fill="none" stroke-linejoin="round"/>
<rect x="209.30" y="131.80" width="116.60" height="91.80" fill="none" stroke="#8a8a8a" stroke-width="0.8"/>
<line x1="209.30" y1="223.60" x2="209.30" y2="225.60" stroke="#666" stroke-width="0.6"/>
<line x1="218.08" y1="223.60" x2="218.08" y2="224.60" stroke="#666" stroke-width="0.6"/>
<line x1="223.21" y1="223.60" x2="223.21" y2="224.60" stroke="#666" stroke-width="0.6"/>
<line x1="226.85" y1="223.60" x2="226.85" y2="224.60" stroke="#666" stroke-width="0.6"/>
<line x1="229.67" y1="223.60" x2="229.67" y2="224.60" stroke="#666" stroke-width="0.6"/>
<line x1="231.98" y1="223.60" x2="231.98" y2="224.60" stroke="#666" stroke-width="0.6"/>
<line x1="233.93" y1="223.60" x2="233.93" y2="224.60" stroke="#666" stroke-width="0.6"/>
<line x1="235.63" y1="223.60" x2="235.63" y2="224.60" stroke="#666" stroke-width="0.6"/>
<line x1="237.12" y1="223.60" x2="237.12" y2="224.60" stroke="#666" stroke-width="0.6"/>
<line x1="238.45" y1="223.60" x2="238.45" y2="225.60" stroke="#666" stroke-width="0.6"/>
<line x1="247.23" y1="223.60" x2="247.23" y2="224.60" stroke="#666" stroke-width="0.6"/>
<line x1="252.36" y1="223.60" x2="252.36" y2="224.60" stroke="#666" stroke-width="0.6"/>
<line x1="256.00" y1="223.60" x2="256.00" y2="224.60" stroke="#666" stroke-width="0.6"/>
<line x1="258.82" y1="223.60" x2="258.82" y2="224.60" stroke="#666" stroke-width="0.6"/>
<line x1="261.13" y1="223.60" x2="261.13" y2="224.60" stroke="#666" stroke-width="0.6"/>
<line x1="263.08" y1="223.60" x2="263.08" y2="224.60" stroke="#666" stroke-width="0.6"/>
<line x1="264.78" y1="223.60" x2="264.78" y2="224.60" stroke="#666" stroke-width="0.6"/>
<line x1="266.27" y1="223.60" x2="266.27" y2="224.60" stroke="#666" stroke-width="0.6"/>
<line x1="267.60" y1="223.60" x2="267.60" y2="225.60" stroke="#666" stroke-width="0.6"/>
<line x1="276.38" y1="223.60" x2="276.38" y2="224.60" stroke="#666" stroke-width="0.6"/>
<line x1="281.51" y1="223.60" x2="281.51" y2="224.60" stroke="#666" stroke-width="0.6"/>
<line x1="285.15" y1="223.60" x2="285.15" y2="224.60" stroke="#666" stroke-width="0.6"/>
<line x1="287.97" y1="223.60" x2="287.97" y2="224.60" stroke="#666" stroke-width="0.6"/>
<line x1="290.28" y1="223.60" x2="290.28" y2="224.60" stroke="#666" stroke-width="0.6"/>
<line x1="292.23" y1="223.60" x2="292.23" y2="224.60" stroke="#666" stroke-width="0.6"/>
<line x1="293.93" y1="223.60" x2="293.93" y2="224.60" stroke="#666" stroke-width="0.6"/>
<line x1="295.42" y1="223.60" x2="295.42" y2="224.60" stroke="#666" stroke-width="0.6"/>
<line x1="296.75" y1="223.60" x2="296.75" y2="225.60" stroke="#666" stroke-width="0.6"/>
<line x1="305.53" y1="223.60" x2="305.53" y2="224.60" stroke="#666" stroke-width="0.6"/>
<line x1="310.66" y1="223.60" x2="310.66" y2="224.60" stroke="#666" stroke-width="0.6"/>
<line x1="314.30" y1="223.60" x2="314.30" y2="224.60" stroke="#666" stroke-width="0.6"/>
<line x1="317.12" y1="223.60" x2="317.12" y2="224.60" stroke="#666" stroke-width="0.6"/>
<line x1="319.43" y1="223.60" x2="319.43" y2="224.60" stroke="#666" stroke-width="0.6"/>
<line x1="321.38" y1="223.60" x2="321.38" y2="224.60" stroke="#666" stroke-width="0.6"/>
<line x1="323.08" y1="223.60" x2="323.08" y2="224.60" stroke="#666" stroke-width="0.6"/>
<line x1="324.57" y1="223.60" x2="324.57" y2="224.60" stroke="#666" stroke-width="0.6"/>
<line x1="325.90" y1="223.60" x2="325.90" y2="225.60" stroke="#666" stroke-width="0.6"/>
<text x="210.30" y="232.27" font-size="5.2" fill="#222" text-anchor="start">10<tspan font-size="3.74" dy="-2.18">0</tspan></text>
<text x="236.05" y="232.27" font-size="5.2" fill="#222" text-anchor="start">10<tspan font-size="3.74" dy="-2.18">1</tspan></text>
<text x="265.20" y="232.27" font-size="5.2" fill="#222" text-anchor="start">10<tspan font-size="3.74" dy="-2.18">2</tspan></text>
<text x="294.35" y="232.27" font-size="5.2" fill="#222" text-anchor="start">10<tspan font-size="3.74" dy="-2.18">3</tspan></text>
<text x="317.90" y="232.27" font-size="5.2" fill="#222" text-anchor="start">10<tspan font-size="3.74" dy="-2.18">4</tspan></text>
<text x="264.50" y="247.67" font-size="6.3" text-anchor="middle" font-weight="normal" fill="#111">CD25PE</text>
<line x1="229.20" y1="257.40" x2="239.40" y2="257.40" stroke="#808080" stroke-width="2.4" stroke-dasharray="2.0,1.3"/>
<text x="242.70" y="259.78" font-size="6.6" text-anchor="start" font-weight="normal" fill="#111">DMSO</text>
<line x1="229.20" y1="265.20" x2="239.40" y2="265.20" stroke="#a0c4d8" stroke-width="2.4"/>
<text x="242.70" y="267.58" font-size="6.6" text-anchor="start" font-weight="normal" fill="#111">Ara-C</text>
<line x1="229.20" y1="274.00" x2="239.40" y2="274.00" stroke="#cc9440" stroke-width="2.4"/>
<text x="242.70" y="276.38" font-size="6.6" text-anchor="start" font-weight="normal" fill="#111">Ara-C+Cmpd C (0.03&#181;M)</text>
<line x1="229.20" y1="283.40" x2="239.40" y2="283.40" stroke="#bcbc3c" stroke-width="2.4"/>
<text x="242.70" y="285.78" font-size="6.6" text-anchor="start" font-weight="normal" fill="#111">Ara-C+Cmpd C (0.1&#181;M)</text>
<line x1="229.20" y1="292.90" x2="239.40" y2="292.90" stroke="#5a1a5a" stroke-width="2.4"/>
<text x="242.70" y="295.28" font-size="6.6" text-anchor="start" font-weight="normal" fill="#111">Ara-C+Cmpd C (0.3&#181;M)</text>
<line x1="229.20" y1="302.20" x2="239.40" y2="302.20" stroke="#b4b444" stroke-width="2.4"/>
<text x="242.70" y="304.58" font-size="6.6" text-anchor="start" font-weight="normal" fill="#111">Ara-C+Cmpd C (1&#181;M)</text>
<text x="342.60" y="8.60" font-size="11.3" font-weight="bold" fill="#000">C</text>
<text x="355.00" y="8.50" font-size="8.6" font-weight="bold" fill="#111">i.</text>
<text x="436.00" y="7.90" font-size="8.6" font-weight="bold" fill="#111">ii.</text>
<rect x="371.90" y="9.50" width="58.90" height="56.40" fill="#fff" stroke="#8a8a8a" stroke-width="0.8"/>
<ellipse cx="400.00" cy="38.00" rx="5.00" ry="1.20" fill="#d0d4e4" opacity="0.35" transform="rotate(-35 400.00 38.00)"/>
<ellipse cx="407.00" cy="36.00" rx="4.00" ry="1.00" fill="#d0d4e4" opacity="0.35" transform="rotate(-35 407.00 36.00)"/>
<ellipse cx="414.00" cy="33.00" rx="3.00" ry="0.80" fill="#d0d4e4" opacity="0.35" transform="rotate(-35 414.00 33.00)"/>
<clipPath id="cpg1"><rect x="372.30" y="9.50" width="58.50" height="56.00"/></clipPath>
<g clip-path="url(#cpg1)">
<ellipse cx="380.40" cy="49.20" rx="8.60" ry="16.60" fill="url(#g1)" transform="rotate(-5 380.40 49.20)"/>
<rect x="386.46" y="62.67" width="0.8" height="0.8" fill="#3a50c0" opacity="0.60"/>
<rect x="379.67" y="36.71" width="0.8" height="0.8" fill="#4a8ad8" opacity="0.35"/>
<rect x="383.08" y="36.38" width="0.8" height="0.8" fill="#5060c8" opacity="0.49"/>
<rect x="379.20" y="36.55" width="0.8" height="0.8" fill="#6a70d0" opacity="0.31"/>
<rect x="388.00" y="38.05" width="0.8" height="0.8" fill="#6a70d0" opacity="0.57"/>
<rect x="374.48" y="52.41" width="0.8" height="0.8" fill="#4a8ad8" opacity="0.32"/>
<rect x="374.17" y="48.75" width="0.8" height="0.8" fill="#5060c8" opacity="0.39"/>
<rect x="376.16" y="39.72" width="0.8" height="0.8" fill="#6a70d0" opacity="0.49"/>
<rect x="386.45" y="40.19" width="0.8" height="0.8" fill="#3a50c0" opacity="0.52"/>
<rect x="388.90" y="54.37" width="0.8" height="0.8" fill="#6a70d0" opacity="0.59"/>
<rect x="385.49" y="41.69" width="0.8" height="0.8" fill="#6a70d0" opacity="0.60"/>
<rect x="374.45" y="37.00" width="0.8" height="0.8" fill="#6a70d0" opacity="0.38"/>
<rect x="374.89" y="60.68" width="0.8" height="0.8" fill="#5060c8" opacity="0.38"/>
<rect x="381.05" y="35.51" width="0.8" height="0.8" fill="#3a50c0" opacity="0.35"/>
<rect x="373.99" y="47.94" width="0.8" height="0.8" fill="#6a70d0" opacity="0.47"/>
<rect x="388.77" y="47.58" width="0.8" height="0.8" fill="#6a70d0" opacity="0.51"/>
<rect x="380.27" y="34.81" width="0.8" height="0.8" fill="#5060c8" opacity="0.30"/>
<rect x="374.37" y="38.80" width="0.8" height="0.8" fill="#3a50c0" opacity="0.30"/>
<rect x="381.39" y="62.49" width="0.8" height="0.8" fill="#3a50c0" opacity="0.26"/>
<rect x="386.97" y="49.41" width="0.8" height="0.8" fill="#6a70d0" opacity="0.44"/>
<rect x="374.65" y="55.94" width="0.8" height="0.8" fill="#6a70d0" opacity="0.46"/>
<rect x="382.54" y="63.17" width="0.8" height="0.8" fill="#5060c8" opacity="0.25"/>
<rect x="382.79" y="35.42" width="0.8" height="0.8" fill="#5060c8" opacity="0.41"/>
<rect x="387.53" y="55.02" width="0.8" height="0.8" fill="#6a70d0" opacity="0.39"/>
<rect x="379.66" y="65.02" width="0.8" height="0.8" fill="#3a50c0" opacity="0.27"/>
<rect x="383.85" y="35.25" width="0.8" height="0.8" fill="#4a8ad8" opacity="0.46"/>
<rect x="372.84" y="47.58" width="0.8" height="0.8" fill="#4a8ad8" opacity="0.34"/>
<rect x="387.19" y="40.11" width="0.8" height="0.8" fill="#4a8ad8" opacity="0.31"/>
<rect x="383.99" y="60.01" width="0.8" height="0.8" fill="#3a50c0" opacity="0.25"/>
<rect x="373.76" y="44.95" width="0.8" height="0.8" fill="#5060c8" opacity="0.43"/>
<rect x="376.40" y="39.55" width="0.8" height="0.8" fill="#4a8ad8" opacity="0.53"/>
<rect x="383.41" y="60.54" width="0.8" height="0.8" fill="#3a50c0" opacity="0.60"/>
<rect x="379.19" y="34.89" width="0.8" height="0.8" fill="#4a8ad8" opacity="0.50"/>
<rect x="388.16" y="49.80" width="0.8" height="0.8" fill="#4a8ad8" opacity="0.28"/>
<rect x="375.58" y="35.42" width="0.8" height="0.8" fill="#5060c8" opacity="0.33"/>
<rect x="385.20" y="56.41" width="0.8" height="0.8" fill="#6a70d0" opacity="0.56"/>
<rect x="386.24" y="43.47" width="0.8" height="0.8" fill="#6a70d0" opacity="0.50"/>
<rect x="379.60" y="64.43" width="0.8" height="0.8" fill="#6a70d0" opacity="0.35"/>
<rect x="386.43" y="43.60" width="0.8" height="0.8" fill="#5060c8" opacity="0.28"/>
<rect x="372.41" y="48.48" width="0.8" height="0.8" fill="#5060c8" opacity="0.58"/>
<rect x="380.17" y="30.65" width="0.8" height="0.8" fill="#6a70d0" opacity="0.32"/>
<rect x="374.65" y="58.53" width="0.8" height="0.8" fill="#4a8ad8" opacity="0.42"/>
<rect x="373.41" y="46.57" width="0.8" height="0.8" fill="#3a50c0" opacity="0.55"/>
<rect x="374.48" y="53.96" width="0.8" height="0.8" fill="#6a70d0" opacity="0.53"/>
<rect x="373.84" y="59.47" width="0.8" height="0.8" fill="#3a50c0" opacity="0.45"/>
<rect x="383.68" y="60.97" width="0.8" height="0.8" fill="#5060c8" opacity="0.37"/>
<rect x="384.30" y="58.52" width="0.8" height="0.8" fill="#3a50c0" opacity="0.26"/>
<rect x="384.51" y="58.59" width="0.8" height="0.8" fill="#3a50c0" opacity="0.51"/>
<rect x="386.31" y="54.21" width="0.8" height="0.8" fill="#6a70d0" opacity="0.32"/>
<rect x="388.80" y="44.44" width="0.8" height="0.8" fill="#4a8ad8" opacity="0.29"/>
<rect x="382.22" y="61.47" width="0.8" height="0.8" fill="#3a50c0" opacity="0.26"/>
<rect x="388.67" y="43.93" width="0.8" height="0.8" fill="#3a50c0" opacity="0.54"/>
<rect x="375.18" y="38.27" width="0.8" height="0.8" fill="#6a70d0" opacity="0.42"/>
<rect x="384.93" y="58.82" width="0.8" height="0.8" fill="#6a70d0" opacity="0.36"/>
<rect x="372.72" y="56.90" width="0.8" height="0.8" fill="#3a50c0" opacity="0.37"/>
<rect x="388.61" y="41.76" width="0.8" height="0.8" fill="#6a70d0" opacity="0.52"/>
<rect x="374.81" y="41.15" width="0.8" height="0.8" fill="#4a8ad8" opacity="0.55"/>
<rect x="374.56" y="38.84" width="0.8" height="0.8" fill="#4a8ad8" opacity="0.43"/>
<rect x="385.62" y="56.35" width="0.8" height="0.8" fill="#4a8ad8" opacity="0.50"/>
<rect x="373.79" y="46.10" width="0.8" height="0.8" fill="#3a50c0" opacity="0.45"/>
<rect x="373.44" y="54.91" width="0.8" height="0.8" fill="#3a50c0" opacity="0.25"/>
<rect x="374.16" y="49.90" width="0.8" height="0.8" fill="#4a8ad8" opacity="0.49"/>
<rect x="384.28" y="34.59" width="0.8" height="0.8" fill="#6a70d0" opacity="0.45"/>
<rect x="383.94" y="59.81" width="0.8" height="0.8" fill="#5060c8" opacity="0.58"/>
<rect x="381.36" y="65.07" width="0.8" height="0.8" fill="#3a50c0" opacity="0.42"/>
<rect x="390.26" y="48.14" width="0.8" height="0.8" fill="#3a50c0" opacity="0.47"/>
<rect x="375.74" y="60.70" width="0.8" height="0.8" fill="#3a50c0" opacity="0.40"/>
<rect x="376.07" y="38.29" width="0.8" height="0.8" fill="#6a70d0" opacity="0.32"/>
<rect x="379.75" y="64.27" width="0.8" height="0.8" fill="#4a8ad8" opacity="0.59"/>
<rect x="375.42" y="38.86" width="0.8" height="0.8" fill="#4a8ad8" opacity="0.29"/>
<rect x="374.60" y="41.69" width="0.8" height="0.8" fill="#3a50c0" opacity="0.37"/>
<rect x="376.50" y="63.59" width="0.8" height="0.8" fill="#5060c8" opacity="0.55"/>
<rect x="373.17" y="53.71" width="0.8" height="0.8" fill="#4a8ad8" opacity="0.40"/>
<rect x="381.36" y="36.65" width="0.8" height="0.8" fill="#5060c8" opacity="0.29"/>
<rect x="373.53" y="52.42" width="0.8" height="0.8" fill="#5060c8" opacity="0.34"/>
<rect x="380.61" y="35.81" width="0.8" height="0.8" fill="#5060c8" opacity="0.50"/>
<rect x="386.77" y="47.23" width="0.8" height="0.8" fill="#6a70d0" opacity="0.31"/>
<rect x="376.37" y="63.77" width="0.8" height="0.8" fill="#5060c8" opacity="0.34"/>
<rect x="387.27" y="45.34" width="0.8" height="0.8" fill="#3a50c0" opacity="0.32"/>
<rect x="383.93" y="58.70" width="0.8" height="0.8" fill="#5060c8" opacity="0.53"/>
<rect x="379.65" y="35.44" width="0.8" height="0.8" fill="#3a50c0" opacity="0.35"/>
<rect x="385.30" y="40.90" width="0.8" height="0.8" fill="#4a8ad8" opacity="0.26"/>
<rect x="374.95" y="56.94" width="0.8" height="0.8" fill="#6a70d0" opacity="0.41"/>
<rect x="385.95" y="62.46" width="0.8" height="0.8" fill="#4a8ad8" opacity="0.25"/>
<rect x="380.78" y="64.22" width="0.8" height="0.8" fill="#4a8ad8" opacity="0.55"/>
<rect x="376.27" y="35.15" width="0.8" height="0.8" fill="#5060c8" opacity="0.49"/>
<rect x="375.62" y="37.82" width="0.8" height="0.8" fill="#3a50c0" opacity="0.56"/>
<rect x="380.71" y="61.71" width="0.8" height="0.8" fill="#4a8ad8" opacity="0.50"/>
<rect x="376.27" y="40.75" width="0.8" height="0.8" fill="#4a8ad8" opacity="0.26"/>
<rect x="385.45" y="37.20" width="0.8" height="0.8" fill="#5060c8" opacity="0.56"/>
<rect x="375.89" y="65.52" width="0.8" height="0.8" fill="#3a50c0" opacity="0.26"/>
<rect x="374.37" y="45.95" width="0.8" height="0.8" fill="#5060c8" opacity="0.50"/>
<rect x="386.66" y="45.39" width="0.8" height="0.8" fill="#4a8ad8" opacity="0.44"/>
<rect x="378.83" y="34.68" width="0.8" height="0.8" fill="#3a50c0" opacity="0.47"/>
<rect x="384.18" y="35.71" width="0.8" height="0.8" fill="#4a8ad8" opacity="0.32"/>
<rect x="377.88" y="38.09" width="0.8" height="0.8" fill="#4a8ad8" opacity="0.43"/>
<rect x="386.20" y="44.16" width="0.8" height="0.8" fill="#3a50c0" opacity="0.34"/>
<rect x="374.06" y="60.43" width="0.8" height="0.8" fill="#3a50c0" opacity="0.25"/>
<rect x="372.91" y="57.32" width="0.8" height="0.8" fill="#6a70d0" opacity="0.45"/>
<rect x="386.14" y="58.28" width="0.8" height="0.8" fill="#6a70d0" opacity="0.51"/>
<rect x="387.21" y="43.99" width="0.8" height="0.8" fill="#4a8ad8" opacity="0.41"/>
<rect x="383.59" y="59.56" width="0.8" height="0.8" fill="#3a50c0" opacity="0.53"/>
<rect x="374.81" y="37.08" width="0.8" height="0.8" fill="#5060c8" opacity="0.54"/>
<rect x="384.34" y="59.16" width="0.8" height="0.8" fill="#4a8ad8" opacity="0.41"/>
<rect x="378.49" y="62.10" width="0.8" height="0.8" fill="#4a8ad8" opacity="0.37"/>
<rect x="384.13" y="39.37" width="0.8" height="0.8" fill="#6a70d0" opacity="0.50"/>
<rect x="377.01" y="33.41" width="0.8" height="0.8" fill="#4a8ad8" opacity="0.25"/>
<rect x="379.28" y="37.18" width="0.8" height="0.8" fill="#6a70d0" opacity="0.38"/>
<rect x="376.47" y="38.13" width="0.8" height="0.8" fill="#3a50c0" opacity="0.48"/>
<rect x="375.21" y="60.93" width="0.8" height="0.8" fill="#6a70d0" opacity="0.55"/>
<rect x="387.85" y="54.59" width="0.8" height="0.8" fill="#5060c8" opacity="0.44"/>
<rect x="374.97" y="64.60" width="0.8" height="0.8" fill="#3a50c0" opacity="0.48"/>
<rect x="382.26" y="63.10" width="0.8" height="0.8" fill="#3a50c0" opacity="0.45"/>
<rect x="384.48" y="38.93" width="0.8" height="0.8" fill="#5060c8" opacity="0.52"/>
<rect x="375.63" y="62.48" width="0.8" height="0.8" fill="#5060c8" opacity="0.46"/>
<rect x="376.84" y="32.46" width="0.8" height="0.8" fill="#3a50c0" opacity="0.48"/>
<rect x="385.80" y="40.99" width="0.8" height="0.8" fill="#5060c8" opacity="0.42"/>
<rect x="387.02" y="56.08" width="0.8" height="0.8" fill="#3a50c0" opacity="0.44"/>
<rect x="379.64" y="65.37" width="0.8" height="0.8" fill="#5060c8" opacity="0.54"/>
<rect x="372.46" y="51.80" width="0.8" height="0.8" fill="#5060c8" opacity="0.50"/>
<rect x="380.55" y="62.30" width="0.8" height="0.8" fill="#5060c8" opacity="0.44"/>
<rect x="386.68" y="35.07" width="0.8" height="0.8" fill="#4a8ad8" opacity="0.49"/>
<rect x="374.23" y="49.38" width="0.8" height="0.8" fill="#6a70d0" opacity="0.54"/>
<rect x="373.18" y="63.15" width="0.8" height="0.8" fill="#3a50c0" opacity="0.31"/>
<rect x="375.05" y="61.62" width="0.8" height="0.8" fill="#3a50c0" opacity="0.26"/>
<rect x="386.74" y="52.83" width="0.8" height="0.8" fill="#3a50c0" opacity="0.43"/>
<rect x="387.57" y="38.82" width="0.8" height="0.8" fill="#5060c8" opacity="0.37"/>
<rect x="384.70" y="39.39" width="0.8" height="0.8" fill="#6a70d0" opacity="0.37"/>
<rect x="382.17" y="30.29" width="0.8" height="0.8" fill="#6a70d0" opacity="0.40"/>
<rect x="373.85" y="55.90" width="0.8" height="0.8" fill="#3a50c0" opacity="0.54"/>
<rect x="378.56" y="62.08" width="0.8" height="0.8" fill="#6a70d0" opacity="0.56"/>
<rect x="376.07" y="61.53" width="0.8" height="0.8" fill="#5060c8" opacity="0.48"/>
<rect x="382.18" y="36.48" width="0.8" height="0.8" fill="#6a70d0" opacity="0.29"/>
<rect x="387.75" y="46.75" width="0.8" height="0.8" fill="#3a50c0" opacity="0.52"/>
<rect x="386.88" y="52.42" width="0.8" height="0.8" fill="#3a50c0" opacity="0.39"/>
<rect x="388.09" y="61.24" width="0.8" height="0.8" fill="#3a50c0" opacity="0.32"/>
<rect x="387.59" y="41.73" width="0.8" height="0.8" fill="#4a8ad8" opacity="0.47"/>
<rect x="374.97" y="38.48" width="0.8" height="0.8" fill="#3a50c0" opacity="0.32"/>
<rect x="375.86" y="33.94" width="0.8" height="0.8" fill="#3a50c0" opacity="0.48"/>
<rect x="385.07" y="39.50" width="0.8" height="0.8" fill="#4a8ad8" opacity="0.52"/>
<rect x="386.43" y="42.22" width="0.8" height="0.8" fill="#5060c8" opacity="0.53"/>
<rect x="373.44" y="43.67" width="0.8" height="0.8" fill="#6a70d0" opacity="0.55"/>
<rect x="382.95" y="60.52" width="0.8" height="0.8" fill="#3a50c0" opacity="0.42"/>
<rect x="374.36" y="47.57" width="0.8" height="0.8" fill="#3a50c0" opacity="0.52"/>
<rect x="374.54" y="55.32" width="0.8" height="0.8" fill="#3a50c0" opacity="0.25"/>
<rect x="374.45" y="59.05" width="0.8" height="0.8" fill="#5060c8" opacity="0.42"/>
<rect x="373.41" y="57.48" width="0.8" height="0.8" fill="#5060c8" opacity="0.56"/>
<rect x="375.06" y="38.64" width="0.8" height="0.8" fill="#4a8ad8" opacity="0.25"/>
<rect x="376.53" y="32.29" width="0.8" height="0.8" fill="#3a50c0" opacity="0.33"/>
<rect x="387.22" y="61.77" width="0.8" height="0.8" fill="#4a8ad8" opacity="0.26"/>
<rect x="379.22" y="37.51" width="0.8" height="0.8" fill="#5060c8" opacity="0.57"/>
<rect x="374.35" y="62.30" width="0.8" height="0.8" fill="#5060c8" opacity="0.51"/>
<rect x="387.37" y="57.07" width="0.8" height="0.8" fill="#4a8ad8" opacity="0.48"/>
<rect x="386.70" y="39.15" width="0.8" height="0.8" fill="#3a50c0" opacity="0.50"/>
<rect x="389.13" y="50.41" width="0.8" height="0.8" fill="#3a50c0" opacity="0.39"/>
<rect x="378.00" y="60.39" width="0.8" height="0.8" fill="#5060c8" opacity="0.59"/>
<rect x="384.11" y="37.07" width="0.8" height="0.8" fill="#4a8ad8" opacity="0.41"/>
<rect x="383.94" y="61.00" width="0.8" height="0.8" fill="#3a50c0" opacity="0.38"/>
<rect x="375.88" y="37.97" width="0.8" height="0.8" fill="#4a8ad8" opacity="0.52"/>
<rect x="373.27" y="53.41" width="0.8" height="0.8" fill="#6a70d0" opacity="0.52"/>
<rect x="374.74" y="44.33" width="0.8" height="0.8" fill="#6a70d0" opacity="0.55"/>
<rect x="379.39" y="36.48" width="0.8" height="0.8" fill="#3a50c0" opacity="0.54"/>
<rect x="374.98" y="41.48" width="0.8" height="0.8" fill="#5060c8" opacity="0.38"/>
<rect x="377.26" y="35.23" width="0.8" height="0.8" fill="#5060c8" opacity="0.53"/>
<rect x="378.84" y="63.36" width="0.8" height="0.8" fill="#4a8ad8" opacity="0.31"/>
<rect x="385.70" y="43.63" width="0.8" height="0.8" fill="#3a50c0" opacity="0.35"/>
<rect x="387.13" y="65.04" width="0.8" height="0.8" fill="#5060c8" opacity="0.35"/>
<rect x="386.21" y="33.99" width="0.8" height="0.8" fill="#4a8ad8" opacity="0.37"/>
<rect x="388.33" y="58.26" width="0.8" height="0.8" fill="#5060c8" opacity="0.53"/>
<rect x="379.16" y="35.63" width="0.8" height="0.8" fill="#5060c8" opacity="0.36"/>
<rect x="388.23" y="54.92" width="0.8" height="0.8" fill="#6a70d0" opacity="0.46"/>
<rect x="388.22" y="50.09" width="0.8" height="0.8" fill="#4a8ad8" opacity="0.41"/>
<rect x="386.49" y="56.43" width="0.8" height="0.8" fill="#5060c8" opacity="0.39"/>
<rect x="379.99" y="62.40" width="0.8" height="0.8" fill="#5060c8" opacity="0.32"/>
<rect x="383.05" y="62.67" width="0.8" height="0.8" fill="#5060c8" opacity="0.53"/>
<rect x="378.52" y="63.40" width="0.8" height="0.8" fill="#5060c8" opacity="0.34"/>
<rect x="386.46" y="43.01" width="0.8" height="0.8" fill="#4a8ad8" opacity="0.38"/>
<rect x="386.89" y="59.06" width="0.8" height="0.8" fill="#5060c8" opacity="0.36"/>
<rect x="388.73" y="52.31" width="0.8" height="0.8" fill="#6a70d0" opacity="0.43"/>
<rect x="391.96" y="52.10" width="0.8" height="0.8" fill="#4a8ad8" opacity="0.46"/>
<rect x="382.04" y="62.79" width="0.8" height="0.8" fill="#6a70d0" opacity="0.40"/>
<rect x="386.44" y="45.13" width="0.8" height="0.8" fill="#5060c8" opacity="0.34"/>
<rect x="389.63" y="53.52" width="0.8" height="0.8" fill="#5060c8" opacity="0.60"/>
<rect x="375.70" y="57.91" width="0.8" height="0.8" fill="#6a70d0" opacity="0.55"/>
<rect x="374.50" y="52.25" width="0.8" height="0.8" fill="#3a50c0" opacity="0.55"/>
<rect x="374.89" y="36.37" width="0.8" height="0.8" fill="#3a50c0" opacity="0.34"/>
<rect x="373.59" y="43.56" width="0.8" height="0.8" fill="#3a50c0" opacity="0.58"/>
<rect x="376.71" y="36.30" width="0.8" height="0.8" fill="#5060c8" opacity="0.38"/>
<rect x="381.08" y="63.24" width="0.8" height="0.8" fill="#5060c8" opacity="0.31"/>
<rect x="386.60" y="44.61" width="0.8" height="0.8" fill="#3a50c0" opacity="0.54"/>
<rect x="386.39" y="52.72" width="0.8" height="0.8" fill="#4a8ad8" opacity="0.27"/>
<rect x="384.18" y="58.58" width="0.8" height="0.8" fill="#6a70d0" opacity="0.46"/>
<rect x="375.91" y="36.86" width="0.8" height="0.8" fill="#4a8ad8" opacity="0.29"/>
<rect x="374.09" y="50.64" width="0.8" height="0.8" fill="#5060c8" opacity="0.40"/>
<rect x="383.74" y="32.14" width="0.8" height="0.8" fill="#4a8ad8" opacity="0.50"/>
<rect x="383.13" y="63.86" width="0.8" height="0.8" fill="#3a50c0" opacity="0.30"/>
<rect x="384.55" y="35.23" width="0.8" height="0.8" fill="#6a70d0" opacity="0.56"/>
<rect x="385.03" y="59.97" width="0.8" height="0.8" fill="#4a8ad8" opacity="0.59"/>
<rect x="386.05" y="43.73" width="0.8" height="0.8" fill="#3a50c0" opacity="0.41"/>
<rect x="377.04" y="59.45" width="0.8" height="0.8" fill="#5060c8" opacity="0.42"/>
<rect x="375.65" y="39.66" width="0.8" height="0.8" fill="#3a50c0" opacity="0.31"/>
<rect x="373.66" y="53.30" width="0.8" height="0.8" fill="#5060c8" opacity="0.40"/>
<rect x="384.69" y="60.51" width="0.8" height="0.8" fill="#3a50c0" opacity="0.34"/>
<rect x="383.99" y="38.23" width="0.8" height="0.8" fill="#6a70d0" opacity="0.53"/>
<rect x="379.89" y="63.91" width="0.8" height="0.8" fill="#4a8ad8" opacity="0.29"/>
<rect x="387.68" y="47.30" width="0.8" height="0.8" fill="#3a50c0" opacity="0.47"/>
<rect x="382.32" y="33.85" width="0.8" height="0.8" fill="#6a70d0" opacity="0.29"/>
<rect x="380.62" y="35.47" width="0.8" height="0.8" fill="#6a70d0" opacity="0.40"/>
<rect x="379.96" y="60.98" width="0.8" height="0.8" fill="#4a8ad8" opacity="0.35"/>
<rect x="386.29" y="40.52" width="0.8" height="0.8" fill="#3a50c0" opacity="0.54"/>
<rect x="388.02" y="47.20" width="0.8" height="0.8" fill="#4a8ad8" opacity="0.53"/>
<rect x="375.99" y="62.43" width="0.8" height="0.8" fill="#5060c8" opacity="0.41"/>
<rect x="382.24" y="35.21" width="0.8" height="0.8" fill="#6a70d0" opacity="0.40"/>
<rect x="385.98" y="42.55" width="0.8" height="0.8" fill="#5060c8" opacity="0.35"/>
<rect x="383.48" y="61.96" width="0.8" height="0.8" fill="#5060c8" opacity="0.50"/>
<rect x="383.01" y="63.66" width="0.8" height="0.8" fill="#3a50c0" opacity="0.54"/>
<rect x="385.32" y="41.28" width="0.8" height="0.8" fill="#5060c8" opacity="0.32"/>
<rect x="373.40" y="37.67" width="0.8" height="0.8" fill="#5060c8" opacity="0.45"/>
<rect x="383.01" y="65.49" width="0.8" height="0.8" fill="#4a8ad8" opacity="0.54"/>
<rect x="386.67" y="42.17" width="0.8" height="0.8" fill="#6a70d0" opacity="0.37"/>
<rect x="384.48" y="37.11" width="0.8" height="0.8" fill="#3a50c0" opacity="0.39"/>
<rect x="381.03" y="34.43" width="0.8" height="0.8" fill="#5060c8" opacity="0.56"/>
<rect x="379.64" y="63.44" width="0.8" height="0.8" fill="#6a70d0" opacity="0.26"/>
<rect x="377.65" y="32.04" width="0.8" height="0.8" fill="#3a50c0" opacity="0.37"/>
<rect x="386.53" y="43.82" width="0.8" height="0.8" fill="#6a70d0" opacity="0.50"/>
<rect x="382.90" y="38.33" width="0.8" height="0.8" fill="#6a70d0" opacity="0.52"/>
<rect x="386.89" y="35.53" width="0.8" height="0.8" fill="#6a70d0" opacity="0.56"/>
<rect x="387.96" y="44.87" width="0.8" height="0.8" fill="#4a8ad8" opacity="0.41"/>
<rect x="386.68" y="51.17" width="0.8" height="0.8" fill="#5060c8" opacity="0.59"/>
<rect x="381.55" y="62.48" width="0.8" height="0.8" fill="#5060c8" opacity="0.31"/>
<rect x="387.97" y="51.00" width="0.8" height="0.8" fill="#5060c8" opacity="0.34"/>
<rect x="384.26" y="37.02" width="0.8" height="0.8" fill="#5060c8" opacity="0.50"/>
<rect x="386.48" y="58.06" width="0.8" height="0.8" fill="#3a50c0" opacity="0.50"/>
<rect x="387.70" y="53.31" width="0.8" height="0.8" fill="#6a70d0" opacity="0.29"/>
<rect x="385.86" y="59.29" width="0.8" height="0.8" fill="#5060c8" opacity="0.44"/>
<rect x="381.31" y="61.48" width="0.8" height="0.8" fill="#4a8ad8" opacity="0.51"/>
<rect x="384.91" y="63.79" width="0.8" height="0.8" fill="#3a50c0" opacity="0.58"/>
<rect x="373.36" y="60.62" width="0.8" height="0.8" fill="#3a50c0" opacity="0.39"/>
<rect x="387.63" y="43.80" width="0.8" height="0.8" fill="#6a70d0" opacity="0.37"/>
<rect x="380.83" y="62.79" width="0.8" height="0.8" fill="#6a70d0" opacity="0.54"/>
<rect x="384.87" y="36.95" width="0.8" height="0.8" fill="#3a50c0" opacity="0.36"/>
<rect x="384.49" y="59.61" width="0.8" height="0.8" fill="#4a8ad8" opacity="0.48"/>
<rect x="388.00" y="50.27" width="0.8" height="0.8" fill="#3a50c0" opacity="0.44"/>
<rect x="387.72" y="55.77" width="0.8" height="0.8" fill="#3a50c0" opacity="0.33"/>
<rect x="374.31" y="55.60" width="0.8" height="0.8" fill="#4a8ad8" opacity="0.52"/>
<rect x="388.08" y="43.00" width="0.8" height="0.8" fill="#3a50c0" opacity="0.26"/>
<rect x="375.00" y="36.34" width="0.8" height="0.8" fill="#6a70d0" opacity="0.57"/>
<rect x="374.41" y="37.85" width="0.8" height="0.8" fill="#3a50c0" opacity="0.47"/>
<rect x="380.37" y="65.59" width="0.8" height="0.8" fill="#3a50c0" opacity="0.40"/>
<rect x="386.49" y="45.45" width="0.8" height="0.8" fill="#5060c8" opacity="0.29"/>
<rect x="374.10" y="41.02" width="0.8" height="0.8" fill="#6a70d0" opacity="0.28"/>
</g>
<line x1="391.40" y1="9.50" x2="391.40" y2="65.90" stroke="#8a8a8a" stroke-width="0.8"/>
<line x1="371.90" y1="44.40" x2="430.80" y2="44.40" stroke="#8a8a8a" stroke-width="0.8"/>
<rect x="372.60" y="55.40" width="6.00" height="8.00" fill="#fff" stroke="none" stroke-width="0.8"/>
<text x="373.00" y="14.60" font-size="4.0" font-weight="bold" fill="#222" stroke="none" text-anchor="start">Q1</text>
<text x="373.00" y="18.80" font-size="4.0" font-weight="bold" fill="#222" stroke="none" text-anchor="start">20.8</text>
<text x="429.80" y="14.60" font-size="4.0" font-weight="bold" fill="#222" stroke="none" text-anchor="end">Q2</text>
<text x="429.80" y="18.80" font-size="4.0" font-weight="bold" fill="#222" stroke="none" text-anchor="end">0.34</text>
<text x="373.00" y="59.00" font-size="4.0" font-weight="bold" fill="#222" stroke="none" text-anchor="start">Q4</text>
<text x="373.00" y="63.20" font-size="4.0" font-weight="bold" fill="#222" stroke="none" text-anchor="start">78.7</text>
<text x="429.80" y="59.00" font-size="4.0" font-weight="bold" fill="#222" stroke="none" text-anchor="end">Q3</text>
<text x="429.80" y="63.20" font-size="4.0" font-weight="bold" fill="#222" stroke="none" text-anchor="end">0.262</text>
<line x1="370.10" y1="14.20" x2="371.90" y2="14.20" stroke="#444" stroke-width="0.7"/>
<text x="361.10" y="16.22" font-size="5.6" fill="#222" text-anchor="start">10<tspan font-size="4.03" dy="-2.35">4</tspan></text>
<line x1="370.10" y1="24.60" x2="371.90" y2="24.60" stroke="#444" stroke-width="0.7"/>
<text x="361.10" y="26.62" font-size="5.6" fill="#222" text-anchor="start">10<tspan font-size="4.03" dy="-2.35">3</tspan></text>
<line x1="370.10" y1="38.00" x2="371.90" y2="38.00" stroke="#444" stroke-width="0.7"/>
<text x="361.10" y="40.02" font-size="5.6" fill="#222" text-anchor="start">10<tspan font-size="4.03" dy="-2.35">2</tspan></text>
<line x1="370.10" y1="51.80" x2="371.90" y2="51.80" stroke="#444" stroke-width="0.7"/>
<text x="361.10" y="53.82" font-size="5.6" fill="#222" text-anchor="start">10<tspan font-size="4.03" dy="-2.35">1</tspan></text>
<line x1="370.10" y1="65.00" x2="371.90" y2="65.00" stroke="#444" stroke-width="0.7"/>
<text x="361.10" y="67.02" font-size="5.6" fill="#222" text-anchor="start">10<tspan font-size="4.03" dy="-2.35">0</tspan></text>
<line x1="374.10" y1="65.90" x2="374.10" y2="67.50" stroke="#444" stroke-width="0.7"/>
<text x="371.50" y="75.32" font-size="5.6" fill="#222" text-anchor="start">10<tspan font-size="4.03" dy="-2.35">0</tspan></text>
<line x1="386.40" y1="65.90" x2="386.40" y2="67.50" stroke="#444" stroke-width="0.7"/>
<text x="383.80" y="75.32" font-size="5.6" fill="#222" text-anchor="start">10<tspan font-size="4.03" dy="-2.35">1</tspan></text>
<line x1="400.60" y1="65.90" x2="400.60" y2="67.50" stroke="#444" stroke-width="0.7"/>
<text x="398.00" y="75.32" font-size="5.6" fill="#222" text-anchor="start">10<tspan font-size="4.03" dy="-2.35">2</tspan></text>
<line x1="415.40" y1="65.90" x2="415.40" y2="67.50" stroke="#444" stroke-width="0.7"/>
<text x="412.80" y="75.32" font-size="5.6" fill="#222" text-anchor="start">10<tspan font-size="4.03" dy="-2.35">3</tspan></text>
<line x1="427.50" y1="65.90" x2="427.50" y2="67.50" stroke="#444" stroke-width="0.7"/>
<text x="424.90" y="75.32" font-size="5.6" fill="#222" text-anchor="start">10<tspan font-size="4.03" dy="-2.35">4</tspan></text>
<rect x="459.30" y="9.50" width="58.90" height="56.40" fill="#fff" stroke="#8a8a8a" stroke-width="0.8"/>
<ellipse cx="485.00" cy="37.00" rx="3.50" ry="1.20" fill="#d0d4e4" opacity="0.35" transform="rotate(-35 485.00 37.00)"/>
<ellipse cx="492.00" cy="34.00" rx="3.00" ry="0.90" fill="#d0d4e4" opacity="0.35" transform="rotate(-35 492.00 34.00)"/>
<ellipse cx="498.00" cy="38.00" rx="4.00" ry="0.80" fill="#d0d4e4" opacity="0.35" transform="rotate(-35 498.00 38.00)"/>
<clipPath id="cpg2"><rect x="459.70" y="9.50" width="58.50" height="56.00"/></clipPath>
<g clip-path="url(#cpg2)">
<ellipse cx="469.30" cy="39.50" rx="9.60" ry="19.50" fill="url(#g2)" transform="rotate(-5 469.30 39.50)"/>
<rect x="461.89" y="29.91" width="0.8" height="0.8" fill="#5060c8" opacity="0.56"/>
<rect x="475.91" y="31.63" width="0.8" height="0.8" fill="#6a70d0" opacity="0.35"/>
<rect x="468.70" y="25.69" width="0.8" height="0.8" fill="#4a8ad8" opacity="0.46"/>
<rect x="461.65" y="32.17" width="0.8" height="0.8" fill="#4a8ad8" opacity="0.32"/>
<rect x="467.01" y="21.19" width="0.8" height="0.8" fill="#4a8ad8" opacity="0.41"/>
<rect x="466.57" y="53.40" width="0.8" height="0.8" fill="#5060c8" opacity="0.37"/>
<rect x="473.83" y="62.23" width="0.8" height="0.8" fill="#4a8ad8" opacity="0.25"/>
<rect x="464.31" y="52.99" width="0.8" height="0.8" fill="#5060c8" opacity="0.36"/>
<rect x="465.98" y="52.62" width="0.8" height="0.8" fill="#5060c8" opacity="0.35"/>
<rect x="470.83" y="17.33" width="0.8" height="0.8" fill="#5060c8" opacity="0.44"/>
<rect x="462.61" y="28.83" width="0.8" height="0.8" fill="#4a8ad8" opacity="0.54"/>
<rect x="463.67" y="54.40" width="0.8" height="0.8" fill="#3a50c0" opacity="0.43"/>
<rect x="478.16" y="38.29" width="0.8" height="0.8" fill="#4a8ad8" opacity="0.37"/>
<rect x="462.61" y="57.61" width="0.8" height="0.8" fill="#5060c8" opacity="0.47"/>
<rect x="473.90" y="26.64" width="0.8" height="0.8" fill="#4a8ad8" opacity="0.34"/>
<rect x="463.15" y="26.09" width="0.8" height="0.8" fill="#5060c8" opacity="0.39"/>
<rect x="476.45" y="50.53" width="0.8" height="0.8" fill="#3a50c0" opacity="0.42"/>
<rect x="477.22" y="35.66" width="0.8" height="0.8" fill="#5060c8" opacity="0.40"/>
<rect x="471.13" y="22.16" width="0.8" height="0.8" fill="#4a8ad8" opacity="0.55"/>
<rect x="466.20" y="22.79" width="0.8" height="0.8" fill="#6a70d0" opacity="0.50"/>
<rect x="466.96" y="56.73" width="0.8" height="0.8" fill="#4a8ad8" opacity="0.48"/>
<rect x="477.72" y="40.23" width="0.8" height="0.8" fill="#4a8ad8" opacity="0.38"/>
<rect x="466.08" y="59.64" width="0.8" height="0.8" fill="#4a8ad8" opacity="0.45"/>
<rect x="462.68" y="31.93" width="0.8" height="0.8" fill="#3a50c0" opacity="0.54"/>
<rect x="464.69" y="56.50" width="0.8" height="0.8" fill="#5060c8" opacity="0.59"/>
<rect x="471.36" y="53.68" width="0.8" height="0.8" fill="#4a8ad8" opacity="0.56"/>
<rect x="477.31" y="34.88" width="0.8" height="0.8" fill="#4a8ad8" opacity="0.35"/>
<rect x="462.50" y="36.28" width="0.8" height="0.8" fill="#6a70d0" opacity="0.44"/>
<rect x="478.55" y="39.30" width="0.8" height="0.8" fill="#4a8ad8" opacity="0.39"/>
<rect x="464.92" y="50.58" width="0.8" height="0.8" fill="#6a70d0" opacity="0.41"/>
<rect x="477.39" y="40.57" width="0.8" height="0.8" fill="#4a8ad8" opacity="0.38"/>
<rect x="463.33" y="48.21" width="0.8" height="0.8" fill="#5060c8" opacity="0.56"/>
<rect x="478.06" y="35.46" width="0.8" height="0.8" fill="#6a70d0" opacity="0.49"/>
<rect x="469.15" y="25.47" width="0.8" height="0.8" fill="#3a50c0" opacity="0.31"/>
<rect x="464.89" y="59.15" width="0.8" height="0.8" fill="#5060c8" opacity="0.29"/>
<rect x="475.02" y="30.43" width="0.8" height="0.8" fill="#6a70d0" opacity="0.54"/>
<rect x="477.69" y="38.45" width="0.8" height="0.8" fill="#5060c8" opacity="0.43"/>
<rect x="472.59" y="24.36" width="0.8" height="0.8" fill="#5060c8" opacity="0.43"/>
<rect x="472.31" y="54.44" width="0.8" height="0.8" fill="#3a50c0" opacity="0.37"/>
<rect x="478.73" y="38.75" width="0.8" height="0.8" fill="#3a50c0" opacity="0.49"/>
<rect x="479.32" y="40.88" width="0.8" height="0.8" fill="#3a50c0" opacity="0.57"/>
<rect x="463.88" y="47.76" width="0.8" height="0.8" fill="#3a50c0" opacity="0.46"/>
<rect x="465.59" y="26.18" width="0.8" height="0.8" fill="#6a70d0" opacity="0.55"/>
<rect x="476.48" y="28.27" width="0.8" height="0.8" fill="#5060c8" opacity="0.45"/>
<rect x="462.85" y="47.69" width="0.8" height="0.8" fill="#3a50c0" opacity="0.26"/>
<rect x="476.02" y="46.58" width="0.8" height="0.8" fill="#4a8ad8" opacity="0.54"/>
<rect x="464.00" y="30.25" width="0.8" height="0.8" fill="#3a50c0" opacity="0.49"/>
<rect x="462.76" y="32.33" width="0.8" height="0.8" fill="#5060c8" opacity="0.50"/>
<rect x="464.73" y="51.65" width="0.8" height="0.8" fill="#3a50c0" opacity="0.55"/>
<rect x="477.04" y="34.14" width="0.8" height="0.8" fill="#3a50c0" opacity="0.37"/>
<rect x="462.40" y="44.07" width="0.8" height="0.8" fill="#4a8ad8" opacity="0.45"/>
<rect x="476.26" y="35.84" width="0.8" height="0.8" fill="#4a8ad8" opacity="0.27"/>
<rect x="469.81" y="53.54" width="0.8" height="0.8" fill="#5060c8" opacity="0.36"/>
<rect x="475.70" y="29.92" width="0.8" height="0.8" fill="#4a8ad8" opacity="0.36"/>
<rect x="462.01" y="28.38" width="0.8" height="0.8" fill="#3a50c0" opacity="0.34"/>
<rect x="463.66" y="49.01" width="0.8" height="0.8" fill="#5060c8" opacity="0.39"/>
<rect x="463.81" y="47.75" width="0.8" height="0.8" fill="#5060c8" opacity="0.28"/>
<rect x="472.75" y="52.24" width="0.8" height="0.8" fill="#4a8ad8" opacity="0.32"/>
<rect x="476.59" y="36.82" width="0.8" height="0.8" fill="#3a50c0" opacity="0.37"/>
<rect x="475.76" y="25.79" width="0.8" height="0.8" fill="#6a70d0" opacity="0.39"/>
<rect x="478.05" y="47.25" width="0.8" height="0.8" fill="#6a70d0" opacity="0.44"/>
<rect x="462.10" y="52.02" width="0.8" height="0.8" fill="#4a8ad8" opacity="0.35"/>
<rect x="470.09" y="59.27" width="0.8" height="0.8" fill="#6a70d0" opacity="0.53"/>
<rect x="469.68" y="54.51" width="0.8" height="0.8" fill="#5060c8" opacity="0.28"/>
<rect x="468.40" y="54.18" width="0.8" height="0.8" fill="#4a8ad8" opacity="0.41"/>
<rect x="471.44" y="24.54" width="0.8" height="0.8" fill="#5060c8" opacity="0.31"/>
<rect x="465.04" y="50.97" width="0.8" height="0.8" fill="#5060c8" opacity="0.35"/>
<rect x="460.66" y="42.17" width="0.8" height="0.8" fill="#5060c8" opacity="0.33"/>
<rect x="460.72" y="44.84" width="0.8" height="0.8" fill="#6a70d0" opacity="0.46"/>
<rect x="460.79" y="46.30" width="0.8" height="0.8" fill="#6a70d0" opacity="0.44"/>
<rect x="462.86" y="48.49" width="0.8" height="0.8" fill="#3a50c0" opacity="0.49"/>
<rect x="475.00" y="47.00" width="0.8" height="0.8" fill="#6a70d0" opacity="0.51"/>
<rect x="470.23" y="19.22" width="0.8" height="0.8" fill="#5060c8" opacity="0.36"/>
<rect x="463.66" y="48.99" width="0.8" height="0.8" fill="#3a50c0" opacity="0.49"/>
<rect x="470.42" y="25.72" width="0.8" height="0.8" fill="#3a50c0" opacity="0.27"/>
<rect x="476.22" y="31.05" width="0.8" height="0.8" fill="#6a70d0" opacity="0.32"/>
<rect x="467.70" y="23.16" width="0.8" height="0.8" fill="#4a8ad8" opacity="0.35"/>
<rect x="463.03" y="48.35" width="0.8" height="0.8" fill="#4a8ad8" opacity="0.52"/>
<rect x="474.81" y="29.34" width="0.8" height="0.8" fill="#6a70d0" opacity="0.31"/>
<rect x="464.23" y="50.95" width="0.8" height="0.8" fill="#6a70d0" opacity="0.56"/>
<rect x="476.60" y="41.87" width="0.8" height="0.8" fill="#4a8ad8" opacity="0.37"/>
<rect x="463.11" y="26.30" width="0.8" height="0.8" fill="#5060c8" opacity="0.35"/>
<rect x="468.27" y="55.35" width="0.8" height="0.8" fill="#3a50c0" opacity="0.39"/>
<rect x="463.35" y="29.69" width="0.8" height="0.8" fill="#4a8ad8" opacity="0.32"/>
<rect x="466.96" y="53.24" width="0.8" height="0.8" fill="#6a70d0" opacity="0.47"/>
<rect x="475.95" y="34.30" width="0.8" height="0.8" fill="#5060c8" opacity="0.45"/>
<rect x="467.89" y="26.02" width="0.8" height="0.8" fill="#6a70d0" opacity="0.58"/>
<rect x="476.15" y="51.29" width="0.8" height="0.8" fill="#6a70d0" opacity="0.57"/>
<rect x="476.04" y="25.83" width="0.8" height="0.8" fill="#5060c8" opacity="0.49"/>
<rect x="477.45" y="43.44" width="0.8" height="0.8" fill="#6a70d0" opacity="0.32"/>
<rect x="475.08" y="32.51" width="0.8" height="0.8" fill="#4a8ad8" opacity="0.60"/>
<rect x="463.60" y="29.24" width="0.8" height="0.8" fill="#5060c8" opacity="0.35"/>
<rect x="476.74" y="49.09" width="0.8" height="0.8" fill="#6a70d0" opacity="0.49"/>
<rect x="468.77" y="24.40" width="0.8" height="0.8" fill="#4a8ad8" opacity="0.43"/>
<rect x="465.93" y="25.71" width="0.8" height="0.8" fill="#5060c8" opacity="0.42"/>
<rect x="472.93" y="57.90" width="0.8" height="0.8" fill="#6a70d0" opacity="0.31"/>
<rect x="472.92" y="51.71" width="0.8" height="0.8" fill="#6a70d0" opacity="0.34"/>
<rect x="476.97" y="45.60" width="0.8" height="0.8" fill="#6a70d0" opacity="0.37"/>
<rect x="475.54" y="47.83" width="0.8" height="0.8" fill="#4a8ad8" opacity="0.48"/>
<rect x="469.88" y="54.87" width="0.8" height="0.8" fill="#5060c8" opacity="0.25"/>
<rect x="466.16" y="22.92" width="0.8" height="0.8" fill="#6a70d0" opacity="0.30"/>
<rect x="466.95" y="21.93" width="0.8" height="0.8" fill="#5060c8" opacity="0.37"/>
<rect x="473.35" y="20.64" width="0.8" height="0.8" fill="#5060c8" opacity="0.49"/>
<rect x="473.68" y="52.57" width="0.8" height="0.8" fill="#4a8ad8" opacity="0.54"/>
<rect x="462.99" y="48.08" width="0.8" height="0.8" fill="#3a50c0" opacity="0.38"/>
<rect x="471.96" y="58.73" width="0.8" height="0.8" fill="#3a50c0" opacity="0.56"/>
<rect x="466.60" y="55.05" width="0.8" height="0.8" fill="#3a50c0" opacity="0.31"/>
<rect x="461.88" y="44.92" width="0.8" height="0.8" fill="#6a70d0" opacity="0.35"/>
<rect x="460.88" y="33.04" width="0.8" height="0.8" fill="#4a8ad8" opacity="0.28"/>
<rect x="467.78" y="24.81" width="0.8" height="0.8" fill="#6a70d0" opacity="0.29"/>
<rect x="461.34" y="40.63" width="0.8" height="0.8" fill="#6a70d0" opacity="0.25"/>
<rect x="475.66" y="32.35" width="0.8" height="0.8" fill="#6a70d0" opacity="0.47"/>
<rect x="476.32" y="33.36" width="0.8" height="0.8" fill="#5060c8" opacity="0.28"/>
<rect x="469.17" y="23.18" width="0.8" height="0.8" fill="#3a50c0" opacity="0.52"/>
<rect x="473.09" y="27.29" width="0.8" height="0.8" fill="#5060c8" opacity="0.29"/>
<rect x="467.74" y="23.53" width="0.8" height="0.8" fill="#6a70d0" opacity="0.51"/>
<rect x="465.46" y="54.44" width="0.8" height="0.8" fill="#6a70d0" opacity="0.33"/>
<rect x="476.07" y="55.37" width="0.8" height="0.8" fill="#6a70d0" opacity="0.54"/>
<rect x="469.13" y="55.06" width="0.8" height="0.8" fill="#4a8ad8" opacity="0.57"/>
<rect x="475.96" y="34.63" width="0.8" height="0.8" fill="#4a8ad8" opacity="0.40"/>
<rect x="468.14" y="20.17" width="0.8" height="0.8" fill="#3a50c0" opacity="0.30"/>
<rect x="470.26" y="53.17" width="0.8" height="0.8" fill="#5060c8" opacity="0.41"/>
<rect x="476.40" y="36.73" width="0.8" height="0.8" fill="#4a8ad8" opacity="0.42"/>
<rect x="470.69" y="53.52" width="0.8" height="0.8" fill="#6a70d0" opacity="0.25"/>
<rect x="474.16" y="24.11" width="0.8" height="0.8" fill="#4a8ad8" opacity="0.30"/>
<rect x="477.98" y="48.07" width="0.8" height="0.8" fill="#3a50c0" opacity="0.43"/>
<rect x="462.33" y="47.14" width="0.8" height="0.8" fill="#5060c8" opacity="0.57"/>
<rect x="473.73" y="54.59" width="0.8" height="0.8" fill="#6a70d0" opacity="0.25"/>
<rect x="471.96" y="24.26" width="0.8" height="0.8" fill="#4a8ad8" opacity="0.28"/>
<rect x="465.21" y="56.14" width="0.8" height="0.8" fill="#4a8ad8" opacity="0.40"/>
<rect x="461.90" y="36.17" width="0.8" height="0.8" fill="#4a8ad8" opacity="0.59"/>
<rect x="463.76" y="28.96" width="0.8" height="0.8" fill="#3a50c0" opacity="0.50"/>
<rect x="465.28" y="54.02" width="0.8" height="0.8" fill="#4a8ad8" opacity="0.58"/>
<rect x="460.36" y="41.71" width="0.8" height="0.8" fill="#5060c8" opacity="0.35"/>
<rect x="465.37" y="51.50" width="0.8" height="0.8" fill="#5060c8" opacity="0.33"/>
<rect x="468.84" y="25.21" width="0.8" height="0.8" fill="#3a50c0" opacity="0.30"/>
<rect x="463.93" y="52.69" width="0.8" height="0.8" fill="#5060c8" opacity="0.45"/>
<rect x="463.16" y="49.01" width="0.8" height="0.8" fill="#5060c8" opacity="0.44"/>
<rect x="475.08" y="49.50" width="0.8" height="0.8" fill="#6a70d0" opacity="0.48"/>
<rect x="472.48" y="55.10" width="0.8" height="0.8" fill="#5060c8" opacity="0.44"/>
<rect x="470.71" y="58.85" width="0.8" height="0.8" fill="#3a50c0" opacity="0.51"/>
<rect x="478.13" y="28.00" width="0.8" height="0.8" fill="#3a50c0" opacity="0.53"/>
<rect x="474.88" y="52.25" width="0.8" height="0.8" fill="#3a50c0" opacity="0.47"/>
<rect x="478.07" y="34.97" width="0.8" height="0.8" fill="#4a8ad8" opacity="0.44"/>
<rect x="476.10" y="36.68" width="0.8" height="0.8" fill="#5060c8" opacity="0.45"/>
<rect x="470.72" y="21.23" width="0.8" height="0.8" fill="#3a50c0" opacity="0.39"/>
<rect x="478.37" y="45.13" width="0.8" height="0.8" fill="#3a50c0" opacity="0.26"/>
<rect x="463.39" y="31.41" width="0.8" height="0.8" fill="#5060c8" opacity="0.40"/>
<rect x="475.77" y="28.44" width="0.8" height="0.8" fill="#5060c8" opacity="0.45"/>
<rect x="475.90" y="31.85" width="0.8" height="0.8" fill="#6a70d0" opacity="0.53"/>
<rect x="468.63" y="24.02" width="0.8" height="0.8" fill="#3a50c0" opacity="0.54"/>
<rect x="475.85" y="52.43" width="0.8" height="0.8" fill="#6a70d0" opacity="0.50"/>
<rect x="478.15" y="44.54" width="0.8" height="0.8" fill="#6a70d0" opacity="0.28"/>
<rect x="462.57" y="35.17" width="0.8" height="0.8" fill="#5060c8" opacity="0.34"/>
<rect x="471.99" y="54.15" width="0.8" height="0.8" fill="#4a8ad8" opacity="0.26"/>
<rect x="479.47" y="38.04" width="0.8" height="0.8" fill="#4a8ad8" opacity="0.29"/>
<rect x="471.84" y="23.88" width="0.8" height="0.8" fill="#5060c8" opacity="0.30"/>
<rect x="477.40" y="31.89" width="0.8" height="0.8" fill="#5060c8" opacity="0.46"/>
<rect x="469.29" y="57.70" width="0.8" height="0.8" fill="#6a70d0" opacity="0.58"/>
<rect x="476.65" y="40.80" width="0.8" height="0.8" fill="#4a8ad8" opacity="0.56"/>
<rect x="471.71" y="24.58" width="0.8" height="0.8" fill="#3a50c0" opacity="0.28"/>
<rect x="463.14" y="27.68" width="0.8" height="0.8" fill="#4a8ad8" opacity="0.59"/>
<rect x="466.15" y="22.43" width="0.8" height="0.8" fill="#4a8ad8" opacity="0.39"/>
<rect x="474.44" y="28.79" width="0.8" height="0.8" fill="#6a70d0" opacity="0.43"/>
<rect x="466.57" y="53.16" width="0.8" height="0.8" fill="#5060c8" opacity="0.46"/>
<rect x="476.70" y="43.73" width="0.8" height="0.8" fill="#4a8ad8" opacity="0.37"/>
<rect x="461.00" y="42.89" width="0.8" height="0.8" fill="#6a70d0" opacity="0.36"/>
<rect x="465.09" y="53.85" width="0.8" height="0.8" fill="#5060c8" opacity="0.41"/>
<rect x="476.15" y="38.31" width="0.8" height="0.8" fill="#3a50c0" opacity="0.47"/>
<rect x="468.14" y="23.40" width="0.8" height="0.8" fill="#3a50c0" opacity="0.43"/>
<rect x="468.67" y="56.42" width="0.8" height="0.8" fill="#5060c8" opacity="0.60"/>
<rect x="479.16" y="43.86" width="0.8" height="0.8" fill="#5060c8" opacity="0.52"/>
<rect x="463.89" y="27.34" width="0.8" height="0.8" fill="#3a50c0" opacity="0.38"/>
<rect x="467.74" y="55.28" width="0.8" height="0.8" fill="#5060c8" opacity="0.49"/>
<rect x="465.69" y="60.26" width="0.8" height="0.8" fill="#6a70d0" opacity="0.51"/>
<rect x="461.30" y="38.59" width="0.8" height="0.8" fill="#4a8ad8" opacity="0.37"/>
<rect x="466.98" y="23.54" width="0.8" height="0.8" fill="#6a70d0" opacity="0.56"/>
<rect x="471.57" y="17.23" width="0.8" height="0.8" fill="#5060c8" opacity="0.60"/>
<rect x="473.28" y="50.76" width="0.8" height="0.8" fill="#5060c8" opacity="0.25"/>
<rect x="475.44" y="26.38" width="0.8" height="0.8" fill="#6a70d0" opacity="0.58"/>
<rect x="462.99" y="31.72" width="0.8" height="0.8" fill="#5060c8" opacity="0.36"/>
<rect x="466.74" y="52.98" width="0.8" height="0.8" fill="#6a70d0" opacity="0.28"/>
<rect x="472.73" y="57.20" width="0.8" height="0.8" fill="#3a50c0" opacity="0.45"/>
<rect x="466.57" y="55.11" width="0.8" height="0.8" fill="#4a8ad8" opacity="0.50"/>
<rect x="476.89" y="31.27" width="0.8" height="0.8" fill="#4a8ad8" opacity="0.36"/>
<rect x="473.30" y="55.52" width="0.8" height="0.8" fill="#5060c8" opacity="0.47"/>
<rect x="469.98" y="56.33" width="0.8" height="0.8" fill="#3a50c0" opacity="0.33"/>
<rect x="463.16" y="48.61" width="0.8" height="0.8" fill="#3a50c0" opacity="0.32"/>
<rect x="468.34" y="20.40" width="0.8" height="0.8" fill="#5060c8" opacity="0.46"/>
<rect x="476.59" y="47.55" width="0.8" height="0.8" fill="#6a70d0" opacity="0.50"/>
<rect x="480.03" y="40.19" width="0.8" height="0.8" fill="#6a70d0" opacity="0.44"/>
<rect x="476.23" y="25.51" width="0.8" height="0.8" fill="#5060c8" opacity="0.36"/>
<rect x="476.31" y="23.89" width="0.8" height="0.8" fill="#3a50c0" opacity="0.48"/>
<rect x="463.05" y="48.09" width="0.8" height="0.8" fill="#3a50c0" opacity="0.55"/>
<rect x="471.72" y="23.06" width="0.8" height="0.8" fill="#3a50c0" opacity="0.47"/>
<rect x="464.45" y="56.26" width="0.8" height="0.8" fill="#6a70d0" opacity="0.58"/>
<rect x="474.07" y="29.60" width="0.8" height="0.8" fill="#3a50c0" opacity="0.57"/>
<rect x="462.46" y="33.58" width="0.8" height="0.8" fill="#6a70d0" opacity="0.30"/>
<rect x="476.03" y="41.11" width="0.8" height="0.8" fill="#5060c8" opacity="0.30"/>
<rect x="470.38" y="19.32" width="0.8" height="0.8" fill="#4a8ad8" opacity="0.37"/>
<rect x="465.56" y="23.33" width="0.8" height="0.8" fill="#5060c8" opacity="0.48"/>
<rect x="462.55" y="29.32" width="0.8" height="0.8" fill="#6a70d0" opacity="0.53"/>
<rect x="477.70" y="42.94" width="0.8" height="0.8" fill="#4a8ad8" opacity="0.45"/>
<rect x="463.39" y="53.75" width="0.8" height="0.8" fill="#6a70d0" opacity="0.30"/>
<rect x="479.05" y="40.63" width="0.8" height="0.8" fill="#6a70d0" opacity="0.30"/>
<rect x="464.34" y="28.93" width="0.8" height="0.8" fill="#4a8ad8" opacity="0.51"/>
<rect x="475.92" y="48.02" width="0.8" height="0.8" fill="#3a50c0" opacity="0.44"/>
<rect x="471.23" y="52.99" width="0.8" height="0.8" fill="#5060c8" opacity="0.34"/>
<rect x="463.74" y="30.62" width="0.8" height="0.8" fill="#5060c8" opacity="0.43"/>
<rect x="462.63" y="57.94" width="0.8" height="0.8" fill="#5060c8" opacity="0.40"/>
<rect x="474.26" y="27.30" width="0.8" height="0.8" fill="#4a8ad8" opacity="0.41"/>
<rect x="464.26" y="59.95" width="0.8" height="0.8" fill="#3a50c0" opacity="0.29"/>
<rect x="468.31" y="20.29" width="0.8" height="0.8" fill="#4a8ad8" opacity="0.49"/>
<rect x="464.61" y="52.50" width="0.8" height="0.8" fill="#5060c8" opacity="0.45"/>
<rect x="459.88" y="51.66" width="0.8" height="0.8" fill="#5060c8" opacity="0.26"/>
<rect x="478.42" y="41.93" width="0.8" height="0.8" fill="#4a8ad8" opacity="0.33"/>
<rect x="464.58" y="51.97" width="0.8" height="0.8" fill="#6a70d0" opacity="0.35"/>
<rect x="477.99" y="38.87" width="0.8" height="0.8" fill="#5060c8" opacity="0.59"/>
<rect x="472.24" y="16.72" width="0.8" height="0.8" fill="#6a70d0" opacity="0.58"/>
<rect x="474.15" y="50.90" width="0.8" height="0.8" fill="#6a70d0" opacity="0.35"/>
<rect x="463.84" y="59.24" width="0.8" height="0.8" fill="#5060c8" opacity="0.36"/>
<rect x="463.82" y="30.26" width="0.8" height="0.8" fill="#4a8ad8" opacity="0.32"/>
<rect x="476.45" y="44.43" width="0.8" height="0.8" fill="#6a70d0" opacity="0.27"/>
<rect x="470.91" y="17.89" width="0.8" height="0.8" fill="#4a8ad8" opacity="0.31"/>
<rect x="474.88" y="26.48" width="0.8" height="0.8" fill="#3a50c0" opacity="0.53"/>
<rect x="473.22" y="50.74" width="0.8" height="0.8" fill="#3a50c0" opacity="0.30"/>
<rect x="466.48" y="56.18" width="0.8" height="0.8" fill="#5060c8" opacity="0.41"/>
<rect x="463.91" y="47.76" width="0.8" height="0.8" fill="#4a8ad8" opacity="0.37"/>
<rect x="475.96" y="31.90" width="0.8" height="0.8" fill="#3a50c0" opacity="0.45"/>
<rect x="472.61" y="60.79" width="0.8" height="0.8" fill="#3a50c0" opacity="0.26"/>
<rect x="462.33" y="39.07" width="0.8" height="0.8" fill="#3a50c0" opacity="0.50"/>
<rect x="477.84" y="44.93" width="0.8" height="0.8" fill="#6a70d0" opacity="0.27"/>
<rect x="478.63" y="55.24" width="0.8" height="0.8" fill="#4a8ad8" opacity="0.25"/>
<rect x="470.64" y="55.96" width="0.8" height="0.8" fill="#5060c8" opacity="0.47"/>
<rect x="460.37" y="34.16" width="0.8" height="0.8" fill="#4a8ad8" opacity="0.59"/>
<rect x="475.34" y="45.98" width="0.8" height="0.8" fill="#5060c8" opacity="0.55"/>
<rect x="476.05" y="37.07" width="0.8" height="0.8" fill="#5060c8" opacity="0.26"/>
<rect x="468.40" y="54.68" width="0.8" height="0.8" fill="#3a50c0" opacity="0.32"/>
<rect x="476.94" y="44.31" width="0.8" height="0.8" fill="#6a70d0" opacity="0.25"/>
<rect x="464.84" y="17.39" width="0.8" height="0.8" fill="#4a8ad8" opacity="0.44"/>
<rect x="460.80" y="34.03" width="0.8" height="0.8" fill="#6a70d0" opacity="0.39"/>
<rect x="464.18" y="62.23" width="0.8" height="0.8" fill="#4a8ad8" opacity="0.38"/>
<rect x="473.38" y="51.10" width="0.8" height="0.8" fill="#5060c8" opacity="0.56"/>
<rect x="461.98" y="22.63" width="0.8" height="0.8" fill="#5060c8" opacity="0.46"/>
<rect x="475.39" y="33.32" width="0.8" height="0.8" fill="#4a8ad8" opacity="0.60"/>
<rect x="473.70" y="22.12" width="0.8" height="0.8" fill="#3a50c0" opacity="0.28"/>
<rect x="462.05" y="25.52" width="0.8" height="0.8" fill="#4a8ad8" opacity="0.49"/>
<rect x="465.96" y="52.96" width="0.8" height="0.8" fill="#4a8ad8" opacity="0.44"/>
<rect x="466.57" y="52.17" width="0.8" height="0.8" fill="#4a8ad8" opacity="0.43"/>
<rect x="463.67" y="32.00" width="0.8" height="0.8" fill="#4a8ad8" opacity="0.33"/>
<rect x="464.63" y="29.45" width="0.8" height="0.8" fill="#3a50c0" opacity="0.39"/>
<rect x="460.64" y="36.57" width="0.8" height="0.8" fill="#6a70d0" opacity="0.28"/>
<rect x="471.99" y="21.67" width="0.8" height="0.8" fill="#6a70d0" opacity="0.34"/>
<rect x="475.16" y="20.99" width="0.8" height="0.8" fill="#6a70d0" opacity="0.43"/>
<rect x="462.44" y="41.56" width="0.8" height="0.8" fill="#6a70d0" opacity="0.43"/>
<rect x="461.55" y="36.75" width="0.8" height="0.8" fill="#6a70d0" opacity="0.33"/>
<rect x="472.93" y="53.39" width="0.8" height="0.8" fill="#3a50c0" opacity="0.36"/>
<rect x="463.60" y="53.19" width="0.8" height="0.8" fill="#4a8ad8" opacity="0.29"/>
</g>
<line x1="478.40" y1="9.50" x2="478.40" y2="65.90" stroke="#8a8a8a" stroke-width="0.8"/>
<line x1="459.30" y1="44.00" x2="518.20" y2="44.00" stroke="#8a8a8a" stroke-width="0.8"/>
<text x="460.60" y="14.60" font-size="4.0" font-weight="bold" fill="#222" stroke="none" text-anchor="start">Q1</text>
<text x="460.60" y="18.80" font-size="4.0" font-weight="bold" fill="#222" stroke="none" text-anchor="start">82.8</text>
<text x="517.00" y="14.60" font-size="4.0" font-weight="bold" fill="#222" stroke="none" text-anchor="end">Q2</text>
<text x="517.00" y="18.80" font-size="4.0" font-weight="bold" fill="#222" stroke="none" text-anchor="end">1.28</text>
<text x="460.60" y="59.00" font-size="4.0" font-weight="bold" fill="#222" stroke="none" text-anchor="start">Q4</text>
<text x="460.60" y="63.20" font-size="4.0" font-weight="bold" fill="#222" stroke="none" text-anchor="start">15.7</text>
<text x="517.00" y="59.00" font-size="4.0" font-weight="bold" fill="#222" stroke="none" text-anchor="end">Q3</text>
<text x="517.00" y="63.20" font-size="4.0" font-weight="bold" fill="#222" stroke="none" text-anchor="end">0.11</text>
<line x1="457.50" y1="14.20" x2="459.30" y2="14.20" stroke="#444" stroke-width="0.7"/>
<text x="448.50" y="16.22" font-size="5.6" fill="#222" text-anchor="start">10<tspan font-size="4.03" dy="-2.35">4</tspan></text>
<line x1="457.50" y1="24.60" x2="459.30" y2="24.60" stroke="#444" stroke-width="0.7"/>
<text x="448.50" y="26.62" font-size="5.6" fill="#222" text-anchor="start">10<tspan font-size="4.03" dy="-2.35">3</tspan></text>
<line x1="457.50" y1="38.00" x2="459.30" y2="38.00" stroke="#444" stroke-width="0.7"/>
<text x="448.50" y="40.02" font-size="5.6" fill="#222" text-anchor="start">10<tspan font-size="4.03" dy="-2.35">2</tspan></text>
<line x1="457.50" y1="51.80" x2="459.30" y2="51.80" stroke="#444" stroke-width="0.7"/>
<text x="448.50" y="53.82" font-size="5.6" fill="#222" text-anchor="start">10<tspan font-size="4.03" dy="-2.35">1</tspan></text>
<line x1="457.50" y1="65.00" x2="459.30" y2="65.00" stroke="#444" stroke-width="0.7"/>
<text x="448.50" y="67.02" font-size="5.6" fill="#222" text-anchor="start">10<tspan font-size="4.03" dy="-2.35">0</tspan></text>
<line x1="461.50" y1="65.90" x2="461.50" y2="67.50" stroke="#444" stroke-width="0.7"/>
<text x="458.90" y="75.32" font-size="5.6" fill="#222" text-anchor="start">10<tspan font-size="4.03" dy="-2.35">0</tspan></text>
<line x1="473.80" y1="65.90" x2="473.80" y2="67.50" stroke="#444" stroke-width="0.7"/>
<text x="471.20" y="75.32" font-size="5.6" fill="#222" text-anchor="start">10<tspan font-size="4.03" dy="-2.35">1</tspan></text>
<line x1="488.00" y1="65.90" x2="488.00" y2="67.50" stroke="#444" stroke-width="0.7"/>
<text x="485.40" y="75.32" font-size="5.6" fill="#222" text-anchor="start">10<tspan font-size="4.03" dy="-2.35">2</tspan></text>
<line x1="502.80" y1="65.90" x2="502.80" y2="67.50" stroke="#444" stroke-width="0.7"/>
<text x="500.20" y="75.32" font-size="5.6" fill="#222" text-anchor="start">10<tspan font-size="4.03" dy="-2.35">3</tspan></text>
<line x1="514.90" y1="65.90" x2="514.90" y2="67.50" stroke="#444" stroke-width="0.7"/>
<text x="512.30" y="75.32" font-size="5.6" fill="#222" text-anchor="start">10<tspan font-size="4.03" dy="-2.35">4</tspan></text>
<text x="357.00" y="42.45" font-size="6.8" text-anchor="middle" font-weight="normal" fill="#111" transform="rotate(-90 357.00 40.00)">CD25PE</text>
<text x="443.40" y="41.95" font-size="6.8" text-anchor="middle" font-weight="normal" fill="#111" transform="rotate(-90 443.40 39.50)">CD25PE</text>
<text x="401.40" y="81.18" font-size="6.6" text-anchor="middle" font-weight="normal" fill="#111">7AAD</text>
<text x="489.70" y="81.18" font-size="6.6" text-anchor="middle" font-weight="normal" fill="#111">7AAD</text>
<text x="355.00" y="88.20" font-size="8.6" font-weight="bold" fill="#111">iii.</text>
<text x="359.40" y="123.27" font-size="6.3" text-anchor="middle" font-weight="normal" fill="#111" transform="rotate(-90 359.40 121.00)">Count</text>
<path d="M374.23,144.94L374.56,145.24L375.54,144.39L376.02,143.71L376.63,142.79L377.32,141.68L378.07,140.18L378.82,138.87L379.55,137.66L380.21,135.62L380.76,135.39L381.62,132.61L382.28,129.53L382.83,126.15L383.38,124.22L384.11,120.87L384.76,116.92L385.34,113.53L386.08,108.44L386.65,104.80L386.99,103.75L387.30,103.19L387.81,106.32L388.35,108.96L388.79,113.32L389.26,118.51L389.89,124.38L390.57,129.20L391.18,133.06L391.88,136.50L392.48,138.73L393.16,141.08L393.84,143.03L394.56,144.10L395.29,144.58L395.80,144.94" stroke="#b04858" stroke-width="0.75" fill="none" stroke-linejoin="round"/>
<path d="M376.19,144.94L376.56,145.08L377.50,143.98L378.00,143.22L378.62,142.19L379.33,140.71L380.08,138.65L380.81,137.00L381.49,135.45L382.07,133.46L382.88,130.91L383.54,127.81L384.12,124.32L384.69,120.79L385.39,118.42L386.02,115.20L386.65,110.78L387.33,107.07L388.02,106.71L388.61,105.48L389.16,102.78L389.65,104.93L390.12,103.98L390.65,103.61L391.22,107.35L391.85,107.86L392.51,109.51L393.18,110.57L393.84,110.46L394.49,110.94L395.14,113.26L395.80,117.09L396.45,117.79L397.10,121.66L397.73,124.17L398.36,126.38L399.07,129.86L399.67,132.24L400.33,133.78L401.01,135.17L401.68,137.55L402.35,139.12L403.03,141.06L403.69,142.18L404.29,143.47L405.07,144.27L405.77,144.48L406.25,144.94" stroke="#9cc4e8" stroke-width="0.75" fill="none" stroke-linejoin="round"/>
<path d="M384.03,144.94L384.40,144.97L385.34,144.56L385.83,144.09L386.43,143.48L387.11,143.08L387.83,142.18L388.56,141.78L389.27,141.19L389.92,140.77L390.62,139.86L391.32,138.76L392.00,137.63L392.65,136.41L393.27,134.68L393.84,134.20L394.60,132.19L395.27,129.58L395.87,126.46L396.45,125.37L397.15,122.00L397.78,116.85L398.41,114.59L399.09,113.72L399.77,109.71L400.37,107.53L401.07,104.34L401.68,102.76L402.29,105.75L402.99,111.27L403.59,110.14L404.27,110.47L404.95,112.90L405.60,113.84L406.25,116.65L406.91,119.27L407.56,120.26L408.22,122.36L408.87,125.56L409.50,128.90L410.13,131.46L410.83,134.41L411.45,135.66L412.14,138.09L412.82,139.91L413.44,141.65L414.22,143.26L414.92,144.14L415.41,144.94" stroke="#e8b860" stroke-width="0.75" fill="none" stroke-linejoin="round"/>
<rect x="371.30" y="94.10" width="63.50" height="50.70" fill="none" stroke="#8a8a8a" stroke-width="0.8"/>
<line x1="371.30" y1="144.80" x2="371.30" y2="146.80" stroke="#666" stroke-width="0.6"/>
<line x1="376.08" y1="144.80" x2="376.08" y2="145.80" stroke="#666" stroke-width="0.6"/>
<line x1="378.87" y1="144.80" x2="378.87" y2="145.80" stroke="#666" stroke-width="0.6"/>
<line x1="380.86" y1="144.80" x2="380.86" y2="145.80" stroke="#666" stroke-width="0.6"/>
<line x1="382.40" y1="144.80" x2="382.40" y2="145.80" stroke="#666" stroke-width="0.6"/>
<line x1="383.65" y1="144.80" x2="383.65" y2="145.80" stroke="#666" stroke-width="0.6"/>
<line x1="384.72" y1="144.80" x2="384.72" y2="145.80" stroke="#666" stroke-width="0.6"/>
<line x1="385.64" y1="144.80" x2="385.64" y2="145.80" stroke="#666" stroke-width="0.6"/>
<line x1="386.45" y1="144.80" x2="386.45" y2="145.80" stroke="#666" stroke-width="0.6"/>
<line x1="387.18" y1="144.80" x2="387.18" y2="146.80" stroke="#666" stroke-width="0.6"/>
<line x1="391.95" y1="144.80" x2="391.95" y2="145.80" stroke="#666" stroke-width="0.6"/>
<line x1="394.75" y1="144.80" x2="394.75" y2="145.80" stroke="#666" stroke-width="0.6"/>
<line x1="396.73" y1="144.80" x2="396.73" y2="145.80" stroke="#666" stroke-width="0.6"/>
<line x1="398.27" y1="144.80" x2="398.27" y2="145.80" stroke="#666" stroke-width="0.6"/>
<line x1="399.53" y1="144.80" x2="399.53" y2="145.80" stroke="#666" stroke-width="0.6"/>
<line x1="400.59" y1="144.80" x2="400.59" y2="145.80" stroke="#666" stroke-width="0.6"/>
<line x1="401.51" y1="144.80" x2="401.51" y2="145.80" stroke="#666" stroke-width="0.6"/>
<line x1="402.32" y1="144.80" x2="402.32" y2="145.80" stroke="#666" stroke-width="0.6"/>
<line x1="403.05" y1="144.80" x2="403.05" y2="146.80" stroke="#666" stroke-width="0.6"/>
<line x1="407.83" y1="144.80" x2="407.83" y2="145.80" stroke="#666" stroke-width="0.6"/>
<line x1="410.62" y1="144.80" x2="410.62" y2="145.80" stroke="#666" stroke-width="0.6"/>
<line x1="412.61" y1="144.80" x2="412.61" y2="145.80" stroke="#666" stroke-width="0.6"/>
<line x1="414.15" y1="144.80" x2="414.15" y2="145.80" stroke="#666" stroke-width="0.6"/>
<line x1="415.40" y1="144.80" x2="415.40" y2="145.80" stroke="#666" stroke-width="0.6"/>
<line x1="416.47" y1="144.80" x2="416.47" y2="145.80" stroke="#666" stroke-width="0.6"/>
<line x1="417.39" y1="144.80" x2="417.39" y2="145.80" stroke="#666" stroke-width="0.6"/>
<line x1="418.20" y1="144.80" x2="418.20" y2="145.80" stroke="#666" stroke-width="0.6"/>
<line x1="418.93" y1="144.80" x2="418.93" y2="146.80" stroke="#666" stroke-width="0.6"/>
<line x1="423.70" y1="144.80" x2="423.70" y2="145.80" stroke="#666" stroke-width="0.6"/>
<line x1="426.50" y1="144.80" x2="426.50" y2="145.80" stroke="#666" stroke-width="0.6"/>
<line x1="428.48" y1="144.80" x2="428.48" y2="145.80" stroke="#666" stroke-width="0.6"/>
<line x1="430.02" y1="144.80" x2="430.02" y2="145.80" stroke="#666" stroke-width="0.6"/>
<line x1="431.28" y1="144.80" x2="431.28" y2="145.80" stroke="#666" stroke-width="0.6"/>
<line x1="432.34" y1="144.80" x2="432.34" y2="145.80" stroke="#666" stroke-width="0.6"/>
<line x1="433.26" y1="144.80" x2="433.26" y2="145.80" stroke="#666" stroke-width="0.6"/>
<line x1="434.07" y1="144.80" x2="434.07" y2="145.80" stroke="#666" stroke-width="0.6"/>
<line x1="434.80" y1="144.80" x2="434.80" y2="146.80" stroke="#666" stroke-width="0.6"/>
<text x="372.30" y="153.67" font-size="5.2" fill="#222" text-anchor="start">10<tspan font-size="3.74" dy="-2.18">0</tspan></text>
<text x="384.78" y="153.67" font-size="5.2" fill="#222" text-anchor="start">10<tspan font-size="3.74" dy="-2.18">1</tspan></text>
<text x="400.65" y="153.67" font-size="5.2" fill="#222" text-anchor="start">10<tspan font-size="3.74" dy="-2.18">2</tspan></text>
<text x="416.53" y="153.67" font-size="5.2" fill="#222" text-anchor="start">10<tspan font-size="3.74" dy="-2.18">3</tspan></text>
<text x="426.80" y="153.67" font-size="5.2" fill="#222" text-anchor="start">10<tspan font-size="3.74" dy="-2.18">4</tspan></text>
<text x="401.70" y="164.77" font-size="6.3" text-anchor="middle" font-weight="normal" fill="#111">CD25PE</text>
<line x1="442.10" y1="136.90" x2="455.60" y2="136.90" stroke="#b01e28" stroke-width="2.4"/>
<text x="460.40" y="139.17" font-size="6.3" text-anchor="start" font-weight="normal" fill="#111">Isotype control</text>
<line x1="442.10" y1="143.80" x2="455.60" y2="143.80" stroke="#a8d0e8" stroke-width="2.4"/>
<text x="460.40" y="146.07" font-size="6.3" text-anchor="start" font-weight="normal" fill="#111">Parental</text>
<line x1="442.10" y1="150.40" x2="455.60" y2="150.40" stroke="#e0a030" stroke-width="2.4"/>
<text x="460.40" y="152.67" font-size="6.3" text-anchor="start" font-weight="normal" fill="#111">Cytarabine resistant</text>
<text x="347.80" y="179.40" font-size="11.3" font-weight="bold" fill="#000">D</text>
<line x1="389.50" y1="194.80" x2="389.50" y2="267.10" stroke="#111" stroke-width="1.2"/>
<line x1="389.00" y1="266.60" x2="487.40" y2="266.60" stroke="#111" stroke-width="1.2"/>
<line x1="387.30" y1="266.60" x2="389.50" y2="266.60" stroke="#111" stroke-width="1.0"/>
<text x="387.00" y="268.76" font-size="6.0" text-anchor="end" font-weight="normal" fill="#111">0</text>
<line x1="387.30" y1="248.75" x2="389.50" y2="248.75" stroke="#111" stroke-width="1.0"/>
<text x="387.00" y="250.91" font-size="6.0" text-anchor="end" font-weight="normal" fill="#111">1</text>
<line x1="387.30" y1="230.90" x2="389.50" y2="230.90" stroke="#111" stroke-width="1.0"/>
<text x="387.00" y="233.06" font-size="6.0" text-anchor="end" font-weight="normal" fill="#111">2</text>
<line x1="387.30" y1="213.05" x2="389.50" y2="213.05" stroke="#111" stroke-width="1.0"/>
<text x="387.00" y="215.21" font-size="6.0" text-anchor="end" font-weight="normal" fill="#111">3</text>
<line x1="387.30" y1="195.20" x2="389.50" y2="195.20" stroke="#111" stroke-width="1.0"/>
<text x="387.00" y="197.36" font-size="6.0" text-anchor="end" font-weight="normal" fill="#111">4</text>
<text x="376.60" y="226.21" font-size="6.7" text-anchor="middle" font-weight="normal" fill="#111" transform="rotate(-90 376.60 223.80)">Relative CD25 mRNA level</text>
<rect x="397.20" y="248.50" width="33.20" height="18.10" fill="#000" stroke="#000" stroke-width="0.8"/>
<line x1="413.50" y1="245.60" x2="413.50" y2="248.70" stroke="#111" stroke-width="1.1"/>
<line x1="405.20" y1="245.60" x2="421.70" y2="245.60" stroke="#111" stroke-width="1.1"/>
<rect x="446.00" y="200.20" width="33.40" height="66.40" fill="#000" stroke="#000" stroke-width="0.8"/>
<line x1="462.50" y1="197.70" x2="462.50" y2="200.50" stroke="#111" stroke-width="1.1"/>
<line x1="454.00" y1="197.70" x2="471.00" y2="197.70" stroke="#111" stroke-width="1.1"/>
<line x1="413.50" y1="266.60" x2="413.50" y2="268.80" stroke="#111" stroke-width="0.8"/>
<line x1="462.80" y1="266.60" x2="462.80" y2="268.80" stroke="#111" stroke-width="0.8"/>
<text x="414.70" y="278.72" font-size="6.45" text-anchor="middle" font-weight="normal" fill="#111">Parental</text>
<text x="465.40" y="278.72" font-size="6.45" text-anchor="middle" font-weight="normal" fill="#111">Cytarabine</text>
<text x="465.40" y="287.32" font-size="6.45" text-anchor="middle" font-weight="normal" fill="#111">Resistant</text>
<text x="-0.80" y="325.80" font-size="11.3" font-weight="bold" fill="#000">E</text>
<text x="18.40" y="325.30" font-size="8.6" font-weight="bold" fill="#111">i.</text>
<text x="125.00" y="326.57" font-size="6.3" text-anchor="middle" font-weight="normal" fill="#111">Cytarabine</text>
<text x="125.00" y="334.27" font-size="6.3" text-anchor="middle" font-weight="normal" fill="#111">Resistant</text>
<text x="96.50" y="334.27" font-size="6.3" text-anchor="middle" font-weight="normal" fill="#111">Parental</text>
<line x1="84.30" y1="337.90" x2="109.70" y2="337.90" stroke="#111" stroke-width="1.3"/>
<line x1="112.30" y1="337.90" x2="137.70" y2="337.90" stroke="#111" stroke-width="1.3"/>
<text x="28.60" y="349.70" font-size="6.1" text-anchor="start" font-weight="bold" fill="#111">STAT5 A/B siRNA:</text>
<text x="90.30" y="349.43" font-size="6.2" text-anchor="middle" font-weight="bold" fill="#111">-</text>
<text x="103.80" y="349.43" font-size="6.2" text-anchor="middle" font-weight="bold" fill="#111">+</text>
<text x="118.20" y="349.43" font-size="6.2" text-anchor="middle" font-weight="bold" fill="#111">-</text>
<text x="132.60" y="349.43" font-size="6.2" text-anchor="middle" font-weight="bold" fill="#111">+</text>
<text x="79.00" y="369.70" font-size="6.4" text-anchor="end" font-weight="bold" fill="#111">STAT5A/B</text>
<text x="79.00" y="393.24" font-size="6.5" text-anchor="end" font-weight="bold" fill="#111">ACTIN</text>
<rect x="82.40" y="357.20" width="57.80" height="19.00" fill="#fbfbfb" stroke="#404040" stroke-width="1.1"/>
<rect x="82.40" y="381.10" width="57.80" height="18.00" fill="#fbfbfb" stroke="#404040" stroke-width="1.1"/>
<g filter="url(#bl)">
<rect x="85.2" y="364.4" width="9.8" height="4.6" rx="2.2" fill="#111"/>
<rect x="99.0" y="365.3" width="9.0" height="2.4" rx="1.2" fill="#d8d8d8"/>
<rect x="112.6" y="364.2" width="10.0" height="5.2" rx="2.2" fill="#0a0a0a"/>
<rect x="127.2" y="364.8" width="9.5" height="2.7" rx="1.3" fill="#1a1a1a" transform="rotate(-3 132 366)"/>
<rect x="83.9" y="387.6" width="13.30" height="4.8" rx="2.2" fill="#0e0e0e"/>
<rect x="99.6" y="387.6" width="10.40" height="4.8" rx="2.2" fill="#0e0e0e"/>
<rect x="112.5" y="387.6" width="10.70" height="4.8" rx="2.2" fill="#0e0e0e"/>
<rect x="125.8" y="387.6" width="11.00" height="4.8" rx="2.2" fill="#0e0e0e"/>
</g>
<text x="18.40" y="414.50" font-size="8.6" font-weight="bold" fill="#111">ii.</text>
<line x1="45.40" y1="438.20" x2="45.40" y2="518.90" stroke="#111" stroke-width="1.2"/>
<line x1="44.90" y1="518.40" x2="152.60" y2="518.40" stroke="#111" stroke-width="1.2"/>
<line x1="43.20" y1="518.40" x2="45.40" y2="518.40" stroke="#111" stroke-width="1.0"/>
<text x="42.60" y="520.34" font-size="5.4" text-anchor="end" font-weight="normal" fill="#111">0.0</text>
<line x1="43.20" y1="511.75" x2="45.40" y2="511.75" stroke="#111" stroke-width="1.0"/>
<text x="42.60" y="513.69" font-size="5.4" text-anchor="end" font-weight="normal" fill="#111">0.1</text>
<line x1="43.20" y1="505.10" x2="45.40" y2="505.10" stroke="#111" stroke-width="1.0"/>
<text x="42.60" y="507.04" font-size="5.4" text-anchor="end" font-weight="normal" fill="#111">0.2</text>
<line x1="43.20" y1="498.45" x2="45.40" y2="498.45" stroke="#111" stroke-width="1.0"/>
<text x="42.60" y="500.39" font-size="5.4" text-anchor="end" font-weight="normal" fill="#111">0.3</text>
<line x1="43.20" y1="491.80" x2="45.40" y2="491.80" stroke="#111" stroke-width="1.0"/>
<text x="42.60" y="493.74" font-size="5.4" text-anchor="end" font-weight="normal" fill="#111">0.4</text>
<line x1="43.20" y1="485.15" x2="45.40" y2="485.15" stroke="#111" stroke-width="1.0"/>
<text x="42.60" y="487.09" font-size="5.4" text-anchor="end" font-weight="normal" fill="#111">0.5</text>
<line x1="43.20" y1="478.50" x2="45.40" y2="478.50" stroke="#111" stroke-width="1.0"/>
<text x="42.60" y="480.44" font-size="5.4" text-anchor="end" font-weight="normal" fill="#111">0.6</text>
<line x1="43.20" y1="471.85" x2="45.40" y2="471.85" stroke="#111" stroke-width="1.0"/>
<text x="42.60" y="473.79" font-size="5.4" text-anchor="end" font-weight="normal" fill="#111">0.7</text>
<line x1="43.20" y1="465.20" x2="45.40" y2="465.20" stroke="#111" stroke-width="1.0"/>
<text x="42.60" y="467.14" font-size="5.4" text-anchor="end" font-weight="normal" fill="#111">0.8</text>
<line x1="43.20" y1="458.55" x2="45.40" y2="458.55" stroke="#111" stroke-width="1.0"/>
<text x="42.60" y="460.49" font-size="5.4" text-anchor="end" font-weight="normal" fill="#111">0.9</text>
<line x1="43.20" y1="451.90" x2="45.40" y2="451.90" stroke="#111" stroke-width="1.0"/>
<text x="42.60" y="453.84" font-size="5.4" text-anchor="end" font-weight="normal" fill="#111">1.0</text>
<line x1="43.20" y1="445.25" x2="45.40" y2="445.25" stroke="#111" stroke-width="1.0"/>
<text x="42.60" y="447.19" font-size="5.4" text-anchor="end" font-weight="normal" fill="#111">1.1</text>
<line x1="43.20" y1="438.60" x2="45.40" y2="438.60" stroke="#111" stroke-width="1.0"/>
<text x="42.60" y="440.54" font-size="5.4" text-anchor="end" font-weight="normal" fill="#111">1.2</text>
<text x="28.20" y="480.98" font-size="6.9" text-anchor="middle" font-weight="normal" fill="#111" transform="rotate(-90 28.20 478.50)">Relative CD25 mRNA level</text>
<rect x="54.00" y="451.90" width="17.30" height="66.50" fill="#fff" stroke="#111" stroke-width="1.0"/>
<rect x="71.30" y="451.90" width="19.00" height="66.50" fill="#000" stroke="#111" stroke-width="1.0"/>
<rect x="107.70" y="495.46" width="17.30" height="22.94" fill="#fff" stroke="#111" stroke-width="1.0"/>
<rect x="125.00" y="483.15" width="18.90" height="35.25" fill="#000" stroke="#111" stroke-width="1.0"/>
<line x1="62.70" y1="444.20" x2="62.70" y2="459.20" stroke="#111" stroke-width="1.0"/>
<line x1="58.50" y1="444.20" x2="66.90" y2="444.20" stroke="#111" stroke-width="1.0"/>
<line x1="58.50" y1="459.20" x2="66.90" y2="459.20" stroke="#111" stroke-width="1.0"/>
<line x1="80.80" y1="449.00" x2="80.80" y2="451.80" stroke="#111" stroke-width="1.0"/>
<line x1="76.60" y1="449.00" x2="85.00" y2="449.00" stroke="#111" stroke-width="1.0"/>
<line x1="76.60" y1="451.80" x2="85.00" y2="451.80" stroke="#111" stroke-width="1.0"/>
<line x1="134.40" y1="482.00" x2="134.40" y2="483.20" stroke="#111" stroke-width="1.0"/>
<line x1="130.20" y1="482.00" x2="138.60" y2="482.00" stroke="#111" stroke-width="1.0"/>
<line x1="130.20" y1="483.20" x2="138.60" y2="483.20" stroke="#111" stroke-width="1.0"/>
<line x1="72.20" y1="518.40" x2="72.20" y2="520.40" stroke="#111" stroke-width="0.8"/>
<line x1="125.50" y1="518.40" x2="125.50" y2="520.40" stroke="#111" stroke-width="0.8"/>
<rect x="98.50" y="436.60" width="10.80" height="3.90" fill="#fff" stroke="#111" stroke-width="1.1"/>
<rect x="98.50" y="445.40" width="10.80" height="4.50" fill="#000" stroke="#111" stroke-width="1.0"/>
<text x="109.80" y="440.56" font-size="6.0" text-anchor="start" font-weight="normal" fill="#111" letter-spacing="-0.15">Parental</text>
<text x="109.80" y="449.86" font-size="6.0" text-anchor="start" font-weight="normal" fill="#111" letter-spacing="-0.15">Cytarabine resistant</text>
<text x="16.00" y="529.56" font-size="6.0" text-anchor="start" font-weight="normal" fill="#111">siRNA:</text>
<text x="71.80" y="529.56" font-size="6.0" text-anchor="middle" font-weight="normal" fill="#111" letter-spacing="-0.15">Non-targeting</text>
<text x="125.50" y="529.56" font-size="6.0" text-anchor="middle" font-weight="normal" fill="#111" letter-spacing="-0.15">STAT5A/B</text>
<text x="182.00" y="327.40" font-size="11.3" font-weight="bold" fill="#000">F</text>
<text x="197.90" y="326.70" font-size="8.6" font-weight="bold" fill="#111">i.</text>
<text x="371.20" y="327.20" font-size="8.6" font-weight="bold" fill="#111">ii.</text>
<line x1="216.30" y1="342.78" x2="216.30" y2="440.56" stroke="#111" stroke-width="1.2"/>
<line x1="216.30" y1="432.80" x2="345.40" y2="432.80" stroke="#111" stroke-width="1.2"/>
<line x1="213.90" y1="440.26" x2="216.30" y2="440.26" stroke="#111" stroke-width="1.0"/>
<text x="211.70" y="442.24" font-size="5.5" text-anchor="end" font-weight="normal" fill="#111">-10</text>
<line x1="213.90" y1="432.80" x2="216.30" y2="432.80" stroke="#111" stroke-width="1.0"/>
<text x="211.70" y="434.78" font-size="5.5" text-anchor="end" font-weight="normal" fill="#111">0</text>
<line x1="213.90" y1="425.34" x2="216.30" y2="425.34" stroke="#111" stroke-width="1.0"/>
<text x="211.70" y="427.32" font-size="5.5" text-anchor="end" font-weight="normal" fill="#111">10</text>
<line x1="213.90" y1="417.88" x2="216.30" y2="417.88" stroke="#111" stroke-width="1.0"/>
<text x="211.70" y="419.86" font-size="5.5" text-anchor="end" font-weight="normal" fill="#111">20</text>
<line x1="213.90" y1="410.42" x2="216.30" y2="410.42" stroke="#111" stroke-width="1.0"/>
<text x="211.70" y="412.40" font-size="5.5" text-anchor="end" font-weight="normal" fill="#111">30</text>
<line x1="213.90" y1="402.96" x2="216.30" y2="402.96" stroke="#111" stroke-width="1.0"/>
<text x="211.70" y="404.94" font-size="5.5" text-anchor="end" font-weight="normal" fill="#111">40</text>
<line x1="213.90" y1="395.50" x2="216.30" y2="395.50" stroke="#111" stroke-width="1.0"/>
<text x="211.70" y="397.48" font-size="5.5" text-anchor="end" font-weight="normal" fill="#111">50</text>
<line x1="213.90" y1="388.04" x2="216.30" y2="388.04" stroke="#111" stroke-width="1.0"/>
<text x="211.70" y="390.02" font-size="5.5" text-anchor="end" font-weight="normal" fill="#111">60</text>
<line x1="213.90" y1="380.58" x2="216.30" y2="380.58" stroke="#111" stroke-width="1.0"/>
<text x="211.70" y="382.56" font-size="5.5" text-anchor="end" font-weight="normal" fill="#111">70</text>
<line x1="213.90" y1="373.12" x2="216.30" y2="373.12" stroke="#111" stroke-width="1.0"/>
<text x="211.70" y="375.10" font-size="5.5" text-anchor="end" font-weight="normal" fill="#111">80</text>
<line x1="213.90" y1="365.66" x2="216.30" y2="365.66" stroke="#111" stroke-width="1.0"/>
<text x="211.70" y="367.64" font-size="5.5" text-anchor="end" font-weight="normal" fill="#111">90</text>
<line x1="213.90" y1="358.20" x2="216.30" y2="358.20" stroke="#111" stroke-width="1.0"/>
<text x="211.70" y="360.18" font-size="5.5" text-anchor="end" font-weight="normal" fill="#111">100</text>
<line x1="213.90" y1="350.74" x2="216.30" y2="350.74" stroke="#111" stroke-width="1.0"/>
<text x="211.70" y="352.72" font-size="5.5" text-anchor="end" font-weight="normal" fill="#111">110</text>
<line x1="213.90" y1="343.28" x2="216.30" y2="343.28" stroke="#111" stroke-width="1.0"/>
<text x="211.70" y="345.26" font-size="5.5" text-anchor="end" font-weight="normal" fill="#111">120</text>
<line x1="235.54" y1="432.80" x2="235.54" y2="434.80" stroke="#111" stroke-width="0.8"/>
<text x="235.54" y="444.62" font-size="5.6" text-anchor="middle" font-weight="normal" fill="#111">-4</text>
<line x1="253.58" y1="432.80" x2="253.58" y2="434.80" stroke="#111" stroke-width="0.8"/>
<text x="253.58" y="444.62" font-size="5.6" text-anchor="middle" font-weight="normal" fill="#111">-3</text>
<line x1="271.62" y1="432.80" x2="271.62" y2="434.80" stroke="#111" stroke-width="0.8"/>
<text x="271.62" y="444.62" font-size="5.6" text-anchor="middle" font-weight="normal" fill="#111">-2</text>
<line x1="289.66" y1="432.80" x2="289.66" y2="434.80" stroke="#111" stroke-width="0.8"/>
<text x="289.66" y="444.62" font-size="5.6" text-anchor="middle" font-weight="normal" fill="#111">-1</text>
<line x1="307.70" y1="432.80" x2="307.70" y2="434.80" stroke="#111" stroke-width="0.8"/>
<text x="307.70" y="444.62" font-size="5.6" text-anchor="middle" font-weight="normal" fill="#111">0</text>
<line x1="325.74" y1="432.80" x2="325.74" y2="434.80" stroke="#111" stroke-width="0.8"/>
<text x="325.74" y="444.62" font-size="5.6" text-anchor="middle" font-weight="normal" fill="#111">1</text>
<line x1="343.78" y1="432.80" x2="343.78" y2="434.80" stroke="#111" stroke-width="0.8"/>
<text x="343.78" y="444.62" font-size="5.6" text-anchor="middle" font-weight="normal" fill="#111">2</text>
<text x="196.60" y="396.56" font-size="7.1" text-anchor="middle" font-weight="normal" fill="#111" transform="rotate(-90 196.60 394.00)">% of Control</text>
<text x="271.20" y="326.07" font-size="6.3" text-anchor="middle" font-weight="normal" fill="#111">Cytarabine</text>
<path d="M235.54,354.47L236.44,354.47L237.34,354.47L238.25,354.47L239.15,354.47L240.05,354.47L240.95,354.47L241.85,354.47L242.76,354.47L243.66,354.47L244.56,354.47L245.46,354.48L246.36,354.48L247.27,354.48L248.17,354.48L249.07,354.48L249.97,354.49L250.87,354.49L251.78,354.50L252.68,354.50L253.58,354.51L254.48,354.52L255.38,354.53L256.29,354.55L257.19,354.57L258.09,354.59L258.99,354.62L259.89,354.66L260.80,354.70L261.70,354.76L262.60,354.83L263.50,354.92L264.40,355.02L265.31,355.16L266.21,355.33L267.11,355.53L268.01,355.79L268.91,356.10L269.82,356.49L270.72,356.97L271.62,357.56L272.52,358.27L273.42,359.15L274.33,360.21L275.23,361.49L276.13,363.02L277.03,364.83L277.93,366.96L278.84,369.43L279.74,372.26L280.64,375.44L281.54,378.96L282.44,382.79L283.35,386.85L284.25,391.07L285.15,395.35L286.05,399.59L286.95,403.69L287.86,407.56L288.76,411.15L289.66,414.41L290.56,417.30L291.46,419.85L292.37,422.04L293.27,423.92L294.17,425.50L295.07,426.82L295.97,427.92L296.88,428.83L297.78,429.58L298.68,430.19L299.58,430.69L300.48,431.10L301.39,431.43L302.29,431.69L303.19,431.91L304.09,432.08L304.99,432.22L305.90,432.33L306.80,432.43L307.70,432.50L308.60,432.56L309.50,432.61L310.41,432.64L311.31,432.67L312.21,432.70L313.11,432.72L314.01,432.73L314.92,432.75L315.82,432.76L316.72,432.77L317.62,432.77L318.52,432.78L319.43,432.78L320.33,432.79L321.23,432.79L322.13,432.79L323.03,432.79L323.94,432.79L324.84,432.80L325.74,432.80" stroke="#111" stroke-width="1.2" fill="none"/>
<path d="M235.54,349.85L236.44,349.85L237.34,349.85L238.25,349.85L239.15,349.85L240.05,349.85L240.95,349.85L241.85,349.85L242.76,349.85L243.66,349.85L244.56,349.85L245.46,349.85L246.36,349.85L247.27,349.85L248.17,349.85L249.07,349.85L249.97,349.85L250.87,349.85L251.78,349.85L252.68,349.85L253.58,349.85L254.48,349.86L255.38,349.86L256.29,349.86L257.19,349.86L258.09,349.87L258.99,349.87L259.89,349.88L260.80,349.88L261.70,349.89L262.60,349.90L263.50,349.91L264.40,349.92L265.31,349.94L266.21,349.95L267.11,349.97L268.01,350.00L268.91,350.03L269.82,350.06L270.72,350.10L271.62,350.15L272.52,350.21L273.42,350.28L274.33,350.36L275.23,350.46L276.13,350.57L277.03,350.70L277.93,350.86L278.84,351.05L279.74,351.28L280.64,351.54L281.54,351.85L282.44,352.22L283.35,352.66L284.25,353.16L285.15,353.76L286.05,354.46L286.95,355.27L287.86,356.21L288.76,357.31L289.66,358.57L290.56,360.01L291.46,361.65L292.37,363.51L293.27,365.60L294.17,367.92L295.07,370.48L295.97,373.27L296.88,376.28L297.78,379.48L298.68,382.85L299.58,386.33L300.48,389.89L301.39,393.47L302.29,397.02L303.19,400.48L304.09,403.82L304.99,406.98L305.90,409.95L306.80,412.69L307.70,415.21L308.60,417.48L309.50,419.52L310.41,421.34L311.31,422.94L312.21,424.34L313.11,425.57L314.01,426.63L314.92,427.55L315.82,428.34L316.72,429.01L317.62,429.59L318.52,430.08L319.43,430.50L320.33,430.86L321.23,431.16L322.13,431.41L323.03,431.63L323.94,431.81L324.84,431.97L325.74,432.10" stroke="#3a4898" stroke-width="1.2" fill="none"/>
<path d="M233.24,360.10 L237.84,360.10 L235.54,355.90 Z" fill="#3a4aa0"/>
<path d="M254.53,351.89 L259.13,351.89 L256.83,347.69 Z" fill="#3a4aa0"/>
<line x1="266.21" y1="349.25" x2="266.21" y2="345.52" stroke="#3a4898" stroke-width="0.9"/>
<line x1="264.21" y1="345.52" x2="268.21" y2="345.52" stroke="#3a4898" stroke-width="0.9"/>
<path d="M263.91,351.15 L268.51,351.15 L266.21,346.95 Z" fill="#3a4aa0"/>
<line x1="274.87" y1="349.25" x2="274.87" y2="346.26" stroke="#3a4898" stroke-width="0.9"/>
<line x1="272.87" y1="346.26" x2="276.87" y2="346.26" stroke="#3a4898" stroke-width="0.9"/>
<path d="M272.57,351.15 L277.17,351.15 L274.87,346.95 Z" fill="#3a4aa0"/>
<line x1="283.35" y1="349.62" x2="283.35" y2="346.64" stroke="#3a4898" stroke-width="0.9"/>
<line x1="281.35" y1="346.64" x2="285.35" y2="346.64" stroke="#3a4898" stroke-width="0.9"/>
<path d="M281.05,351.52 L285.65,351.52 L283.35,347.32 Z" fill="#3a4aa0"/>
<path d="M288.44,366.81 L293.04,366.81 L290.74,362.61 Z" fill="#3a4aa0"/>
<path d="M298.18,397.40 L302.78,397.40 L300.48,393.20 Z" fill="#3a4aa0"/>
<path d="M306.12,408.59 L310.72,408.59 L308.42,404.39 Z" fill="#3a4aa0"/>
<path d="M315.50,434.70 L320.10,434.70 L317.80,430.50 Z" fill="#3a4aa0"/>
<path d="M323.08,434.70 L327.68,434.70 L325.38,430.50 Z" fill="#3a4aa0"/>
<rect x="233.54" y="356.20" width="4.00" height="4.00" fill="#111" stroke="none" stroke-width="0.8"/>
<rect x="254.83" y="351.72" width="4.00" height="4.00" fill="#111" stroke="none" stroke-width="0.8"/>
<rect x="264.21" y="351.35" width="4.00" height="4.00" fill="#111" stroke="none" stroke-width="0.8"/>
<rect x="271.42" y="368.14" width="4.00" height="4.00" fill="#111" stroke="none" stroke-width="0.8"/>
<rect x="271.42" y="366.64" width="4.00" height="4.00" fill="#111" stroke="none" stroke-width="0.8"/>
<rect x="282.25" y="386.79" width="4.00" height="4.00" fill="#111" stroke="none" stroke-width="0.8"/>
<rect x="289.10" y="410.66" width="4.00" height="4.00" fill="#111" stroke="none" stroke-width="0.8"/>
<rect x="298.12" y="430.80" width="4.00" height="4.00" fill="#111" stroke="none" stroke-width="0.8"/>
<rect x="306.42" y="430.80" width="4.00" height="4.00" fill="#111" stroke="none" stroke-width="0.8"/>
<rect x="296.30" y="341.00" width="4.00" height="4.00" fill="#111" stroke="none" stroke-width="0.8"/>
<path d="M296.00,355.50 L300.60,355.50 L298.30,351.30 Z" fill="#3a4aa0"/>
<text x="304.30" y="345.23" font-size="6.2" text-anchor="start" font-weight="normal" fill="#111">Parental</text>
<text x="304.30" y="355.83" font-size="6.2" text-anchor="start" font-weight="normal" fill="#111">Cytarabine resistant</text>
<text x="281.00" y="455.46" font-size="6.0" text-anchor="middle" font-weight="normal" fill="#111" letter-spacing="-0.2">Log[&#181;M]</text>
<text x="231.30" y="468.03" font-size="6.2" text-anchor="start" font-weight="normal" fill="#111">Parental KG1 IC50: 54nM</text>
<text x="231.30" y="476.03" font-size="6.2" text-anchor="start" font-weight="normal" fill="#111">Cytarabine resistant KG1 IC50: 496nM</text>
<line x1="392.80" y1="344.38" x2="392.80" y2="440.86" stroke="#111" stroke-width="1.2"/>
<line x1="392.80" y1="433.20" x2="515.40" y2="433.20" stroke="#111" stroke-width="1.2"/>
<line x1="390.40" y1="440.56" x2="392.80" y2="440.56" stroke="#111" stroke-width="1.0"/>
<text x="388.20" y="442.54" font-size="5.5" text-anchor="end" font-weight="normal" fill="#111">-10</text>
<line x1="390.40" y1="433.20" x2="392.80" y2="433.20" stroke="#111" stroke-width="1.0"/>
<text x="388.20" y="435.18" font-size="5.5" text-anchor="end" font-weight="normal" fill="#111">0</text>
<line x1="390.40" y1="425.84" x2="392.80" y2="425.84" stroke="#111" stroke-width="1.0"/>
<text x="388.20" y="427.82" font-size="5.5" text-anchor="end" font-weight="normal" fill="#111">10</text>
<line x1="390.40" y1="418.48" x2="392.80" y2="418.48" stroke="#111" stroke-width="1.0"/>
<text x="388.20" y="420.46" font-size="5.5" text-anchor="end" font-weight="normal" fill="#111">20</text>
<line x1="390.40" y1="411.12" x2="392.80" y2="411.12" stroke="#111" stroke-width="1.0"/>
<text x="388.20" y="413.10" font-size="5.5" text-anchor="end" font-weight="normal" fill="#111">30</text>
<line x1="390.40" y1="403.76" x2="392.80" y2="403.76" stroke="#111" stroke-width="1.0"/>
<text x="388.20" y="405.74" font-size="5.5" text-anchor="end" font-weight="normal" fill="#111">40</text>
<line x1="390.40" y1="396.40" x2="392.80" y2="396.40" stroke="#111" stroke-width="1.0"/>
<text x="388.20" y="398.38" font-size="5.5" text-anchor="end" font-weight="normal" fill="#111">50</text>
<line x1="390.40" y1="389.04" x2="392.80" y2="389.04" stroke="#111" stroke-width="1.0"/>
<text x="388.20" y="391.02" font-size="5.5" text-anchor="end" font-weight="normal" fill="#111">60</text>
<line x1="390.40" y1="381.68" x2="392.80" y2="381.68" stroke="#111" stroke-width="1.0"/>
<text x="388.20" y="383.66" font-size="5.5" text-anchor="end" font-weight="normal" fill="#111">70</text>
<line x1="390.40" y1="374.32" x2="392.80" y2="374.32" stroke="#111" stroke-width="1.0"/>
<text x="388.20" y="376.30" font-size="5.5" text-anchor="end" font-weight="normal" fill="#111">80</text>
<line x1="390.40" y1="366.96" x2="392.80" y2="366.96" stroke="#111" stroke-width="1.0"/>
<text x="388.20" y="368.94" font-size="5.5" text-anchor="end" font-weight="normal" fill="#111">90</text>
<line x1="390.40" y1="359.60" x2="392.80" y2="359.60" stroke="#111" stroke-width="1.0"/>
<text x="388.20" y="361.58" font-size="5.5" text-anchor="end" font-weight="normal" fill="#111">100</text>
<line x1="390.40" y1="352.24" x2="392.80" y2="352.24" stroke="#111" stroke-width="1.0"/>
<text x="388.20" y="354.22" font-size="5.5" text-anchor="end" font-weight="normal" fill="#111">110</text>
<line x1="390.40" y1="344.88" x2="392.80" y2="344.88" stroke="#111" stroke-width="1.0"/>
<text x="388.20" y="346.86" font-size="5.5" text-anchor="end" font-weight="normal" fill="#111">120</text>
<line x1="410.00" y1="433.20" x2="410.00" y2="435.20" stroke="#111" stroke-width="0.8"/>
<text x="410.00" y="447.02" font-size="5.6" text-anchor="middle" font-weight="normal" fill="#111">-4</text>
<line x1="427.30" y1="433.20" x2="427.30" y2="435.20" stroke="#111" stroke-width="0.8"/>
<text x="427.30" y="447.02" font-size="5.6" text-anchor="middle" font-weight="normal" fill="#111">-3</text>
<line x1="444.60" y1="433.20" x2="444.60" y2="435.20" stroke="#111" stroke-width="0.8"/>
<text x="444.60" y="447.02" font-size="5.6" text-anchor="middle" font-weight="normal" fill="#111">-2</text>
<line x1="461.90" y1="433.20" x2="461.90" y2="435.20" stroke="#111" stroke-width="0.8"/>
<text x="461.90" y="447.02" font-size="5.6" text-anchor="middle" font-weight="normal" fill="#111">-1</text>
<line x1="479.20" y1="433.20" x2="479.20" y2="435.20" stroke="#111" stroke-width="0.8"/>
<text x="479.20" y="447.02" font-size="5.6" text-anchor="middle" font-weight="normal" fill="#111">0</text>
<line x1="496.50" y1="433.20" x2="496.50" y2="435.20" stroke="#111" stroke-width="0.8"/>
<text x="496.50" y="447.02" font-size="5.6" text-anchor="middle" font-weight="normal" fill="#111">1</text>
<line x1="513.80" y1="433.20" x2="513.80" y2="435.20" stroke="#111" stroke-width="0.8"/>
<text x="513.80" y="447.02" font-size="5.6" text-anchor="middle" font-weight="normal" fill="#111">2</text>
<text x="374.20" y="396.56" font-size="7.1" text-anchor="middle" font-weight="normal" fill="#111" transform="rotate(-90 374.20 394.00)">% of Control</text>
<text x="445.70" y="330.57" font-size="6.3" text-anchor="middle" font-weight="normal" fill="#111">Compound C</text>
<path d="M410.00,361.08L410.87,361.08L411.73,361.08L412.59,361.08L413.46,361.09L414.32,361.09L415.19,361.09L416.05,361.09L416.92,361.10L417.78,361.10L418.65,361.11L419.51,361.11L420.38,361.12L421.24,361.13L422.11,361.14L422.97,361.15L423.84,361.16L424.70,361.18L425.57,361.20L426.43,361.22L427.30,361.25L428.16,361.28L429.03,361.31L429.89,361.35L430.76,361.40L431.62,361.46L432.49,361.53L433.35,361.61L434.22,361.70L435.08,361.81L435.95,361.93L436.81,362.08L437.68,362.25L438.54,362.46L439.41,362.69L440.27,362.97L441.14,363.28L442.00,363.65L442.87,364.08L443.73,364.58L444.60,365.15L445.46,365.80L446.33,366.55L447.19,367.40L448.06,368.37L448.92,369.46L449.79,370.68L450.65,372.04L451.52,373.55L452.38,375.20L453.25,376.99L454.11,378.91L454.98,380.96L455.84,383.11L456.71,385.34L457.57,387.64L458.44,389.96L459.30,392.28L460.17,394.58L461.03,396.81L461.90,398.96L462.76,401.01L463.63,402.93L464.49,404.72L465.36,406.37L466.22,407.88L467.09,409.24L467.95,410.46L468.82,411.55L469.68,412.52L470.55,413.37L471.41,414.12L472.28,414.77L473.14,415.34L474.01,415.84L474.87,416.27L475.74,416.64L476.60,416.95L477.47,417.23L478.33,417.46L479.20,417.67L480.06,417.84L480.93,417.99L481.79,418.11L482.66,418.22L483.52,418.31L484.39,418.39L485.25,418.46L486.12,418.52L486.98,418.57L487.85,418.61L488.71,418.64L489.58,418.67L490.44,418.70L491.31,418.72L492.17,418.74L493.04,418.76L493.90,418.77L494.77,418.78L495.63,418.79L496.50,418.80" stroke="#111" stroke-width="1.2" fill="none"/>
<path d="M410.00,360.72L410.87,360.73L411.73,360.73L412.59,360.74L413.46,360.74L414.32,360.75L415.19,360.76L416.05,360.77L416.92,360.78L417.78,360.80L418.65,360.82L419.51,360.84L420.38,360.87L421.24,360.90L422.11,360.94L422.97,360.99L423.84,361.05L424.70,361.12L425.57,361.20L426.43,361.30L427.30,361.42L428.16,361.57L429.03,361.74L429.89,361.94L430.76,362.19L431.62,362.48L432.49,362.83L433.35,363.24L434.22,363.74L435.08,364.32L435.95,365.01L436.81,365.82L437.68,366.76L438.54,367.87L439.41,369.15L440.27,370.62L441.14,372.31L442.00,374.22L442.87,376.36L443.73,378.74L444.60,381.35L445.46,384.17L446.33,387.18L447.19,390.35L448.06,393.62L448.92,396.95L449.79,400.28L450.65,403.55L451.52,406.72L452.38,409.73L453.25,412.56L454.11,415.17L454.98,417.54L455.84,419.69L456.71,421.60L457.57,423.28L458.44,424.76L459.30,426.04L460.17,427.14L461.03,428.09L461.90,428.90L462.76,429.59L463.63,430.17L464.49,430.66L465.36,431.07L466.22,431.42L467.09,431.72L467.95,431.96L468.82,432.17L469.68,432.34L470.55,432.48L471.41,432.60L472.28,432.70L473.14,432.79L474.01,432.85L474.87,432.91L475.74,432.96L476.60,433.00L477.47,433.03L478.33,433.06L479.20,433.09L480.06,433.10L480.93,433.12L481.79,433.13L482.66,433.15L483.52,433.15L484.39,433.16L485.25,433.17L486.12,433.17L486.98,433.18L487.85,433.18L488.71,433.18L489.58,433.19L490.44,433.19L491.31,433.19L492.17,433.19L493.04,433.19L493.90,433.19L494.77,433.20L495.63,433.20L496.50,433.20" stroke="#3a4898" stroke-width="1.2" fill="none"/>
<path d="M407.70,361.50 L412.30,361.50 L410.00,357.30 Z" fill="#3a4aa0"/>
<line x1="431.11" y1="358.86" x2="431.11" y2="352.98" stroke="#3a4898" stroke-width="0.9"/>
<line x1="429.11" y1="352.98" x2="433.11" y2="352.98" stroke="#3a4898" stroke-width="0.9"/>
<path d="M428.81,360.76 L433.41,360.76 L431.11,356.56 Z" fill="#3a4aa0"/>
<path d="M437.11,386.82 L441.71,386.82 L439.41,382.62 Z" fill="#3a4aa0"/>
<line x1="447.19" y1="391.25" x2="447.19" y2="385.36" stroke="#3a4898" stroke-width="0.9"/>
<line x1="445.19" y1="385.36" x2="449.19" y2="385.36" stroke="#3a4898" stroke-width="0.9"/>
<path d="M444.89,393.15 L449.50,393.15 L447.19,388.95 Z" fill="#3a4aa0"/>
<path d="M453.20,419.13 L457.80,419.13 L455.50,414.93 Z" fill="#3a4aa0"/>
<path d="M460.81,435.10 L465.41,435.10 L463.11,430.90 Z" fill="#3a4aa0"/>
<path d="M469.29,435.10 L473.89,435.10 L471.59,430.90 Z" fill="#3a4aa0"/>
<path d="M477.76,435.10 L482.37,435.10 L480.06,430.90 Z" fill="#3a4aa0"/>
<path d="M485.55,435.10 L490.15,435.10 L487.85,430.90 Z" fill="#3a4aa0"/>
<path d="M493.16,435.10 L497.76,435.10 L495.46,430.90 Z" fill="#3a4aa0"/>
<rect x="408.00" y="357.60" width="4.00" height="4.00" fill="#111" stroke="none" stroke-width="0.8"/>
<rect x="429.11" y="359.07" width="4.00" height="4.00" fill="#111" stroke="none" stroke-width="0.8"/>
<rect x="437.41" y="369.01" width="4.00" height="4.00" fill="#111" stroke="none" stroke-width="0.8"/>
<line x1="447.19" y1="374.32" x2="447.19" y2="370.64" stroke="#111" stroke-width="0.9"/>
<line x1="445.19" y1="370.64" x2="449.19" y2="370.64" stroke="#111" stroke-width="0.9"/>
<rect x="445.19" y="372.32" width="4.00" height="4.00" fill="#111" stroke="none" stroke-width="0.8"/>
<rect x="453.50" y="382.26" width="4.00" height="4.00" fill="#111" stroke="none" stroke-width="0.8"/>
<rect x="461.11" y="397.34" width="4.00" height="4.00" fill="#111" stroke="none" stroke-width="0.8"/>
<rect x="469.59" y="412.06" width="4.00" height="4.00" fill="#111" stroke="none" stroke-width="0.8"/>
<rect x="478.06" y="414.27" width="4.00" height="4.00" fill="#111" stroke="none" stroke-width="0.8"/>
<rect x="485.85" y="413.32" width="4.00" height="4.00" fill="#111" stroke="none" stroke-width="0.8"/>
<rect x="493.46" y="416.70" width="4.00" height="4.00" fill="#111" stroke="none" stroke-width="0.8"/>
<rect x="457.10" y="342.40" width="4.00" height="4.00" fill="#111" stroke="none" stroke-width="0.8"/>
<path d="M456.80,357.00 L461.40,357.00 L459.10,352.80 Z" fill="#3a4aa0"/>
<text x="465.10" y="346.63" font-size="6.2" text-anchor="start" font-weight="normal" fill="#111">Parental</text>
<text x="465.10" y="357.33" font-size="6.2" text-anchor="start" font-weight="normal" fill="#111">Cytarabine resistant</text>
<text x="455.00" y="457.16" font-size="6.0" text-anchor="middle" font-weight="normal" fill="#111" letter-spacing="-0.2">Log[&#181;M]</text>
<text x="408.70" y="469.03" font-size="6.2" text-anchor="start" font-weight="normal" fill="#111">Parental KG1 IC50: 124 nM</text>
<text x="408.70" y="477.23" font-size="6.2" text-anchor="start" font-weight="normal" fill="#111">Cytarabine resistant KG1 IC50: 14.2 nM</text>
</svg>
</body></html>
